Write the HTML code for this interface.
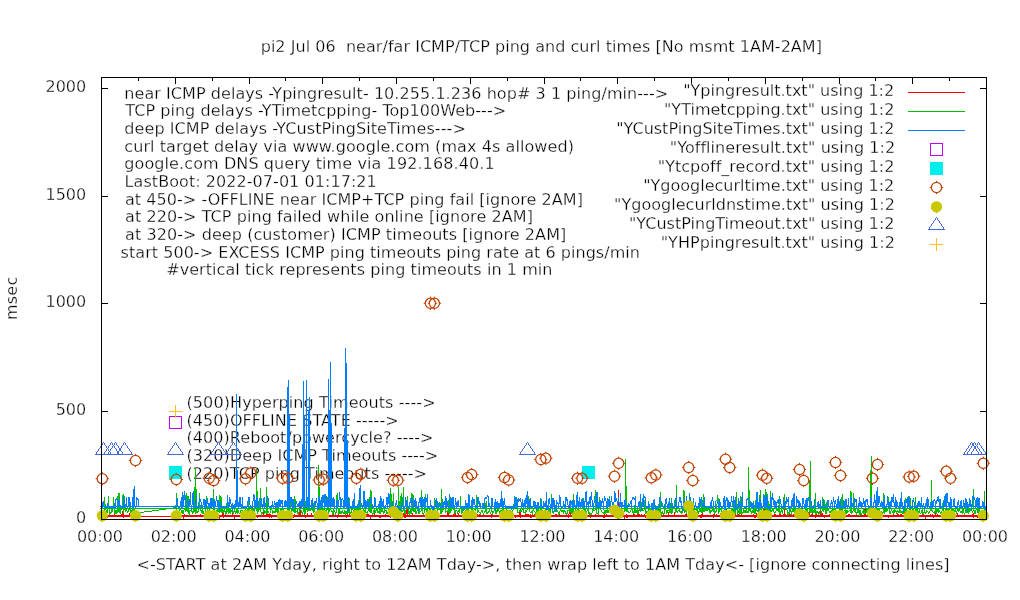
<!DOCTYPE html>
<html><head><meta charset="utf-8"><title>pi2 ping plot</title>
<style>html,body{margin:0;padding:0;background:#fff}svg{display:block}text{font-family:"DejaVu Sans","Liberation Sans",sans-serif;font-size:16px;fill:#000;stroke:#fff;stroke-width:0.3px}</style>
</head><body>
<svg width="1020" height="600" viewBox="0 0 1020 600">
<rect width="1020" height="600" fill="#fff"/>
<text x="260.70" y="52.0" text-anchor="start" xml:space="preserve" letter-spacing="0.038">pi2 Jul 06  near/far ICMP/TCP ping and curl times [No msmt 1AM-2AM]</text>
<text x="136.50" y="570.0" text-anchor="start" xml:space="preserve" letter-spacing="0.060">&lt;-START at 2AM Yday, right to 12AM Tday-&gt;, then wrap left to 1AM Tday&lt;- [ignore connecting lines]</text>
<text x="124.30" y="99.0" text-anchor="start" xml:space="preserve" letter-spacing="0.061">near ICMP delays -Ypingresult- 10.255.1.236 hop# 3 1 ping/min---&gt;</text>
<text x="125.30" y="116.0" text-anchor="start" xml:space="preserve" letter-spacing="0.047">TCP ping delays -YTimetcpping- Top100Web---&gt;</text>
<text x="124.30" y="134.0" text-anchor="start" xml:space="preserve" letter-spacing="0.082">deep ICMP delays -YCustPingSiteTimes---&gt;</text>
<text x="124.30" y="152.0" text-anchor="start" xml:space="preserve" letter-spacing="0.081">curl target delay via www.google.com (max 4s allowed)</text>
<text x="124.30" y="169.0" text-anchor="start" xml:space="preserve" letter-spacing="0.098">google.com DNS query time via 192.168.40.1</text>
<text x="124.60" y="187.0" text-anchor="start" xml:space="preserve" letter-spacing="0.057">LastBoot: 2022-07-01 01:17:21</text>
<text x="125.00" y="205.0" text-anchor="start" xml:space="preserve" letter-spacing="0.047">at 450-&gt; -OFFLINE near ICMP+TCP ping fail [ignore 2AM]</text>
<text x="125.00" y="222.0" text-anchor="start" xml:space="preserve" letter-spacing="0.076">at 220-&gt; TCP ping failed while online [ignore 2AM]</text>
<text x="125.00" y="240.0" text-anchor="start" xml:space="preserve" letter-spacing="0.080">at 320-&gt; deep (customer) ICMP timeouts [ignore 2AM]</text>
<text x="120.60" y="258.0" text-anchor="start" xml:space="preserve" letter-spacing="0.043">start 500-&gt; EXCESS ICMP ping timeouts ping rate at 6 pings/min</text>
<text x="166.20" y="275.0" text-anchor="start" xml:space="preserve" letter-spacing="0.066">#vertical tick represents ping timeouts in 1 min</text>
<text x="186.50" y="408.0" text-anchor="start" xml:space="preserve" letter-spacing="0.096">(500)Hyperping Timeouts ----&gt;</text>
<text x="186.50" y="426.0" text-anchor="start" xml:space="preserve" letter-spacing="0.071">(450)OFFLINE STATE -----&gt;</text>
<text x="186.50" y="443.0" text-anchor="start" xml:space="preserve" letter-spacing="0.061">(400)Reboot/powercycle? ----&gt;</text>
<text x="186.50" y="461.0" text-anchor="start" xml:space="preserve" letter-spacing="0.061">(320)Deep ICMP Timeouts ----&gt;</text>
<text x="186.50" y="479.0" text-anchor="start" xml:space="preserve" letter-spacing="0.061">(220)TCP ping Timeouts -----&gt;</text>
<text transform="translate(16.5,298.3) rotate(-90)" text-anchor="middle" letter-spacing="0.2">msec</text>
<text x="86.20" y="523.0" text-anchor="end" xml:space="preserve">0</text>
<text x="86.20" y="415.0" text-anchor="end" xml:space="preserve">500</text>
<text x="86.20" y="307.0" text-anchor="end" xml:space="preserve">1000</text>
<text x="86.20" y="200.0" text-anchor="end" xml:space="preserve">1500</text>
<text x="86.20" y="92.0" text-anchor="end" xml:space="preserve">2000</text>
<text x="100.00" y="542.0" text-anchor="middle" xml:space="preserve">00:00</text>
<text x="173.75" y="542.0" text-anchor="middle" xml:space="preserve">02:00</text>
<text x="247.50" y="542.0" text-anchor="middle" xml:space="preserve">04:00</text>
<text x="321.25" y="542.0" text-anchor="middle" xml:space="preserve">06:00</text>
<text x="395.00" y="542.0" text-anchor="middle" xml:space="preserve">08:00</text>
<text x="468.75" y="542.0" text-anchor="middle" xml:space="preserve">10:00</text>
<text x="542.50" y="542.0" text-anchor="middle" xml:space="preserve">12:00</text>
<text x="616.25" y="542.0" text-anchor="middle" xml:space="preserve">14:00</text>
<text x="690.00" y="542.0" text-anchor="middle" xml:space="preserve">16:00</text>
<text x="763.75" y="542.0" text-anchor="middle" xml:space="preserve">18:00</text>
<text x="837.50" y="542.0" text-anchor="middle" xml:space="preserve">20:00</text>
<text x="911.25" y="542.0" text-anchor="middle" xml:space="preserve">22:00</text>
<text x="985.00" y="542.0" text-anchor="middle" xml:space="preserve">00:00</text>
<g shape-rendering="crispEdges" stroke="#000" stroke-width="1" fill="none">
<path d="M101 519.5h7M987 519.5h-7"/>
<path d="M101 411.5h7M987 411.5h-7"/>
<path d="M101 303.5h7M987 303.5h-7"/>
<path d="M101 196.5h7M987 196.5h-7"/>
<path d="M101 88.5h7M987 88.5h-7"/>
<path d="M101.5 520v-7 M101.5 77v7"/>
<path d="M138.5 520v-4 M138.5 77v4"/>
<path d="M175.5 520v-7 M175.5 77v7"/>
<path d="M212.5 520v-4 M212.5 77v4"/>
<path d="M249.5 520v-7 M249.5 77v7"/>
<path d="M285.5 520v-4 M285.5 77v4"/>
<path d="M322.5 520v-7 M322.5 77v7"/>
<path d="M359.5 520v-4 M359.5 77v4"/>
<path d="M396.5 520v-7 M396.5 77v7"/>
<path d="M433.5 520v-4 M433.5 77v4"/>
<path d="M470.5 520v-7 M470.5 77v7"/>
<path d="M507.5 520v-4 M507.5 77v4"/>
<path d="M544.5 520v-7 M544.5 77v7"/>
<path d="M580.5 520v-4 M580.5 77v4"/>
<path d="M617.5 520v-7 M617.5 77v7"/>
<path d="M654.5 520v-4 M654.5 77v4"/>
<path d="M691.5 520v-7 M691.5 77v7"/>
<path d="M728.5 520v-4 M728.5 77v4"/>
<path d="M765.5 520v-7 M765.5 77v7"/>
<path d="M802.5 520v-4 M802.5 77v4"/>
<path d="M839.5 520v-7 M839.5 77v7"/>
<path d="M875.5 520v-4 M875.5 77v4"/>
<path d="M912.5 520v-7 M912.5 77v7"/>
<path d="M949.5 520v-4 M949.5 77v4"/>
<path d="M986.5 520v-7 M986.5 77v7"/>
</g>
<g shape-rendering="crispEdges" fill="none" stroke-width="1">
<polyline points="175.2,515.5 175.8,516.5 176.5,516.5 177.1,515.5 177.8,515.5 178.4,515.5 179.0,516.5 179.7,516.5 180.3,514.1 181.0,516.5 181.6,515.5 182.2,515.5 182.9,515.5 183.5,517.5 184.2,514.6 184.8,516.5 185.4,516.5 186.1,516.5 186.7,516.5 187.4,515.5 188.0,515.5 188.6,515.5 189.3,516.5 189.9,515.5 190.6,516.5 191.2,515.5 191.8,515.5 192.5,515.5 193.1,516.5 193.8,515.5 194.4,515.5 195.0,515.5 195.7,516.5 196.3,516.5 197.0,516.5 197.6,516.5 198.2,515.5 198.9,515.5 199.5,516.5 200.2,514.5 200.8,516.5 201.4,515.5 202.1,515.5 202.7,515.5 203.4,516.5 204.0,515.5 204.6,516.5 205.3,516.5 205.9,512.0 206.6,515.5 207.2,516.5 207.8,517.5 208.5,516.5 209.1,515.5 209.8,516.5 210.4,515.5 211.0,516.5 211.7,513.6 212.3,515.5 213.0,515.5 213.6,514.2 214.2,513.9 214.9,517.5 215.5,516.5 216.2,515.5 216.8,515.5 217.4,516.5 218.1,516.5 218.7,514.6 219.4,517.5 220.0,515.5 220.6,515.5 221.3,516.5 221.9,515.5 222.6,514.6 223.2,510.8 223.8,516.5 224.5,515.5 225.1,515.5 225.8,515.5 226.4,515.5 227.0,515.5 227.7,516.5 228.3,515.5 229.0,515.5 229.6,516.5 230.2,515.5 230.9,516.5 231.5,515.5 232.2,516.5 232.8,513.6 233.4,516.5 234.1,515.5 234.7,517.5 235.4,515.5 236.0,515.5 236.6,516.5 237.3,516.5 237.9,515.5 238.6,515.5 239.2,515.5 239.8,515.5 240.5,516.5 241.1,515.5 241.8,515.5 242.4,515.5 243.0,516.5 243.7,515.5 244.3,516.5 245.0,515.5 245.6,515.5 246.2,516.5 246.9,516.5 247.5,516.5 248.2,515.5 248.8,516.5 249.4,511.9 250.1,516.5 250.7,516.5 251.4,515.5 252.0,507.1 252.6,516.5 253.3,516.5 253.9,515.5 254.6,513.7 255.2,516.5 255.8,515.5 256.5,516.5 257.1,515.5 257.8,517.5 258.4,515.5 259.0,515.5 259.7,515.5 260.3,515.5 261.0,515.5 261.6,516.5 262.2,516.5 262.9,515.5 263.5,511.4 264.2,516.5 264.8,516.5 265.4,516.5 266.1,515.5 266.7,514.5 267.4,515.5 268.0,514.6 268.6,515.5 269.3,516.5 269.9,514.3 270.6,515.5 271.2,517.5 271.8,515.5 272.5,515.5 273.1,514.9 273.8,515.5 274.4,516.5 275.0,516.5 275.7,516.5 276.3,515.5 277.0,516.5 277.6,516.5 278.2,516.5 278.9,516.5 279.5,515.5 280.2,515.5 280.8,516.5 281.4,515.5 282.1,515.5 282.7,515.5 283.4,515.5 284.0,516.5 284.6,515.5 285.3,515.5 285.9,516.5 286.6,516.5 287.2,516.5 287.8,514.5 288.5,516.5 289.1,515.5 289.8,515.5 290.4,515.5 291.0,515.5 291.7,515.5 292.3,515.5 293.0,514.6 293.6,516.5 294.2,514.1 294.9,514.9 295.5,515.5 296.2,515.5 296.8,515.5 297.4,516.5 298.1,515.5 298.7,513.7 299.4,516.5 300.0,507.0 300.6,514.1 301.3,515.5 301.9,516.5 302.6,515.5 303.2,515.5 303.8,516.5 304.5,516.5 305.1,517.5 305.8,515.5 306.4,516.5 307.0,515.5 307.7,514.1 308.3,515.5 309.0,515.5 309.6,515.5 310.2,515.5 310.9,515.5 311.5,514.2 312.2,516.5 312.8,516.5 313.4,515.5 314.1,516.5 314.7,516.5 315.4,515.5 316.0,515.5 316.6,516.5 317.3,514.7 317.9,516.5 318.6,515.5 319.2,515.5 319.8,515.5 320.5,516.5 321.1,515.5 321.8,516.5 322.4,514.1 323.0,516.5 323.7,516.5 324.3,514.3 325.0,516.5 325.6,516.5 326.2,515.5 326.9,516.5 327.5,514.4 328.2,516.5 328.8,516.5 329.4,516.5 330.1,515.5 330.7,515.5 331.4,515.5 332.0,516.5 332.6,513.6 333.3,514.2 333.9,516.5 334.6,516.5 335.2,515.5 335.8,514.6 336.5,516.5 337.1,517.5 337.8,516.5 338.4,514.4 339.0,515.5 339.7,516.5 340.3,516.5 341.0,516.5 341.6,515.5 342.2,516.5 342.9,516.5 343.5,516.5 344.2,515.5 344.8,515.5 345.4,515.5 346.1,517.5 346.7,516.5 347.4,514.3 348.0,515.5 348.6,515.5 349.3,514.7 349.9,514.6 350.6,516.5 351.2,516.5 351.8,515.5 352.5,516.5 353.1,515.5 353.8,516.5 354.4,515.5 355.0,516.5 355.7,515.5 356.3,515.5 357.0,515.5 357.6,515.5 358.2,515.5 358.9,515.5 359.5,515.5 360.2,515.5 360.8,516.5 361.4,517.5 362.1,516.5 362.7,517.5 363.4,516.5 364.0,516.5 364.6,516.5 365.3,515.5 365.9,517.5 366.6,515.5 367.2,516.5 367.8,513.8 368.5,515.5 369.1,516.5 369.8,516.5 370.4,517.5 371.0,515.5 371.7,516.5 372.3,515.5 373.0,516.5 373.6,515.5 374.2,516.5 374.9,514.7 375.5,515.5 376.2,516.5 376.8,515.5 377.4,516.5 378.1,516.5 378.7,515.5 379.4,516.5 380.0,517.5 380.6,515.5 381.3,515.5 381.9,516.5 382.6,516.5 383.2,516.5 383.8,515.5 384.5,516.5 385.1,515.5 385.8,514.2 386.4,515.5 387.0,516.5 387.7,516.5 388.3,516.5 389.0,516.5 389.6,515.5 390.2,517.5 390.9,516.5 391.5,514.2 392.2,516.5 392.8,516.5 393.4,516.5 394.1,515.5 394.7,516.5 395.4,515.5 396.0,515.5 396.6,516.5 397.3,515.5 397.9,515.5 398.6,516.5 399.2,516.5 399.8,516.5 400.5,516.5 401.1,515.5 401.8,515.5 402.4,515.5 403.0,515.5 403.7,513.6 404.3,515.5 405.0,517.5 405.6,515.5 406.2,513.7 406.9,507.4 407.5,516.5 408.2,515.5 408.8,515.5 409.4,516.5 410.1,516.5 410.7,515.5 411.4,515.5 412.0,515.5 412.6,514.0 413.3,516.5 413.9,515.5 414.6,515.5 415.2,516.5 415.8,515.5 416.5,516.5 417.1,516.5 417.8,515.5 418.4,515.5 419.0,516.5 419.7,515.5 420.3,516.5 421.0,515.5 421.6,516.5 422.2,516.5 422.9,516.5 423.5,516.5 424.2,515.5 424.8,515.5 425.4,515.5 426.1,515.5 426.7,516.5 427.4,516.5 428.0,516.5 428.6,515.5 429.3,515.5 429.9,513.8 430.6,515.5 431.2,516.5 431.8,515.5 432.5,515.5 433.1,516.5 433.8,516.5 434.4,517.5 435.0,516.5 435.7,516.5 436.3,516.5 437.0,516.5 437.6,516.5 438.2,515.5 438.9,516.5 439.5,515.5 440.2,515.5 440.8,515.5 441.4,515.5 442.1,516.5 442.7,515.5 443.4,515.5 444.0,515.5 444.6,516.5 445.3,515.5 445.9,515.5 446.6,516.5 447.2,516.5 447.8,510.0 448.5,516.5 449.1,515.5 449.8,516.5 450.4,516.5 451.0,514.9 451.7,515.5 452.3,515.5 453.0,515.5 453.6,515.5 454.2,513.7 454.9,515.5 455.5,513.9 456.2,516.5 456.8,515.5 457.4,516.5 458.1,516.5 458.7,514.0 459.4,515.5 460.0,516.5 460.6,516.5 461.3,515.5 461.9,515.5 462.6,516.5 463.2,517.5 463.8,516.5 464.5,516.5 465.1,516.5 465.8,514.0 466.4,515.5 467.0,516.5 467.7,515.5 468.3,516.5 469.0,516.5 469.6,516.5 470.2,516.5 470.9,515.5 471.5,515.5 472.2,515.5 472.8,516.5 473.4,515.5 474.1,515.5 474.7,514.2 475.4,515.5 476.0,513.9 476.6,515.5 477.3,514.6 477.9,516.5 478.6,516.5 479.2,515.5 479.8,514.6 480.5,515.5 481.1,516.5 481.8,515.5 482.4,515.5 483.0,515.5 483.7,515.5 484.3,515.5 485.0,516.5 485.6,516.5 486.2,516.5 486.9,515.5 487.5,515.5 488.2,516.5 488.8,515.5 489.4,516.5 490.1,515.5 490.7,515.5 491.4,516.5 492.0,514.2 492.6,516.5 493.3,516.5 493.9,515.5 494.6,515.5 495.2,516.5 495.8,516.5 496.5,515.5 497.1,516.5 497.8,516.5 498.4,516.5 499.0,516.5 499.7,515.5 500.3,516.5 501.0,516.5 501.6,515.5 502.2,514.6 502.9,516.5 503.5,515.5 504.2,514.8 504.8,517.5 505.4,516.5 506.1,515.0 506.7,515.5 507.4,516.5 508.0,516.5 508.6,515.5 509.3,516.5 509.9,515.5 510.6,514.5 511.2,514.5 511.8,515.5 512.5,516.5 513.1,515.5 513.8,515.5 514.4,516.5 515.0,515.5 515.7,517.5 516.3,516.5 517.0,516.5 517.6,515.5 518.2,516.5 518.9,516.5 519.5,516.5 520.2,509.0 520.8,516.5 521.4,515.5 522.1,516.5 522.7,516.5 523.4,516.5 524.0,515.5 524.6,516.5 525.3,516.5 525.9,514.0 526.6,515.5 527.2,513.9 527.8,514.4 528.5,514.1 529.1,516.5 529.8,516.5 530.4,515.5 531.0,517.5 531.7,515.5 532.3,516.5 533.0,516.5 533.6,516.5 534.2,516.5 534.9,514.3 535.5,515.5 536.2,515.5 536.8,516.5 537.4,515.5 538.1,515.5 538.7,515.5 539.4,514.1 540.0,514.0 540.6,516.5 541.3,517.5 541.9,516.5 542.6,516.5 543.2,514.1 543.8,517.5 544.5,515.5 545.1,516.5 545.8,516.5 546.4,513.6 547.0,515.5 547.7,516.5 548.3,516.5 549.0,515.5 549.6,516.5 550.2,516.5 550.9,515.5 551.5,516.5 552.2,515.5 552.8,515.5 553.4,516.5 554.1,516.5 554.7,515.5 555.4,515.5 556.0,514.3 556.6,516.5 557.3,516.5 557.9,516.5 558.6,516.5 559.2,514.1 559.8,516.5 560.5,515.5 561.1,515.5 561.8,515.5 562.4,516.5 563.0,516.5 563.7,515.5 564.3,515.5 565.0,516.5 565.6,516.5 566.2,516.5 566.9,515.5 567.5,516.5 568.2,516.5 568.8,517.5 569.4,507.4 570.1,513.7 570.7,515.5 571.4,516.5 572.0,515.5 572.6,514.3 573.3,516.5 573.9,516.5 574.6,516.5 575.2,515.5 575.8,515.5 576.5,516.5 577.1,515.5 577.8,515.5 578.4,511.0 579.0,516.5 579.7,514.9 580.3,516.5 581.0,516.5 581.6,516.5 582.2,515.5 582.9,513.7 583.5,514.6 584.2,516.5 584.8,516.5 585.4,516.5 586.1,516.5 586.7,515.5 587.4,516.5 588.0,515.5 588.6,516.5 589.3,515.5 589.9,516.5 590.6,517.5 591.2,516.5 591.8,516.5 592.5,516.5 593.1,516.5 593.8,516.5 594.4,516.5 595.0,516.5 595.7,514.8 596.3,516.5 597.0,516.5 597.6,516.5 598.2,516.5 598.9,515.5 599.5,516.5 600.2,515.5 600.8,516.5 601.4,515.5 602.1,516.5 602.7,515.5 603.4,517.5 604.0,517.5 604.6,514.6 605.3,515.5 605.9,514.9 606.6,514.7 607.2,515.5 607.8,515.5 608.5,515.5 609.1,516.5 609.8,516.5 610.4,516.5 611.0,516.5 611.7,516.5 612.3,516.5 613.0,515.5 613.6,515.5 614.2,516.5 614.9,516.5 615.5,514.6 616.2,515.5 616.8,515.5 617.4,517.5 618.1,517.5 618.7,490.0 619.4,516.5 620.0,515.5 620.6,516.5 621.3,516.5 621.9,516.5 622.6,516.5 623.2,516.5 623.8,515.5 624.5,517.5 625.1,515.5 625.8,516.5 626.4,515.5 627.0,517.5 627.7,515.5 628.3,515.5 629.0,515.5 629.6,515.5 630.2,516.5 630.9,515.5 631.5,515.5 632.2,516.5 632.8,515.5 633.4,515.5 634.1,514.2 634.7,515.5 635.4,516.5 636.0,515.5 636.6,516.5 637.3,515.5 637.9,515.5 638.6,509.9 639.2,515.5 639.8,515.5 640.5,515.5 641.1,515.5 641.8,514.6 642.4,515.5 643.0,515.5 643.7,516.5 644.3,515.5 645.0,514.7 645.6,516.5 646.2,515.5 646.9,515.5 647.5,515.5 648.2,517.5 648.8,514.0 649.4,515.5 650.1,514.1 650.7,515.5 651.4,516.5 652.0,516.5 652.6,515.5 653.3,516.5 653.9,516.5 654.6,514.0 655.2,516.5 655.8,515.5 656.5,516.5 657.1,516.5 657.8,512.6 658.4,516.5 659.0,515.5 659.7,515.5 660.3,516.5 661.0,516.5 661.6,516.5 662.2,516.5 662.9,515.5 663.5,516.5 664.2,516.5 664.8,516.5 665.4,516.5 666.1,515.5 666.7,515.5 667.4,515.5 668.0,516.5 668.6,513.9 669.3,515.5 669.9,515.5 670.6,516.5 671.2,516.5 671.8,516.5 672.5,516.5 673.1,515.5 673.8,515.5 674.4,513.6 675.0,516.5 675.7,515.5 676.3,515.5 677.0,516.5 677.6,516.5 678.2,516.5 678.9,515.5 679.5,515.5 680.2,515.5 680.8,515.5 681.4,515.5 682.1,516.5 682.7,516.5 683.4,516.5 684.0,516.5 684.6,516.5 685.3,515.5 685.9,514.5 686.6,515.5 687.2,515.5 687.8,515.5 688.5,513.5 689.1,515.5 689.8,516.5 690.4,515.5 691.0,516.5 691.7,516.5 692.3,516.5 693.0,516.5 693.6,513.9 694.2,516.5 694.9,516.5 695.5,516.5 696.2,516.5 696.8,516.5 697.4,516.5 698.1,515.5 698.7,515.5 699.4,515.5 700.0,516.5 700.6,517.5 701.3,515.5 701.9,517.5 702.6,514.0 703.2,515.5 703.8,516.5 704.5,516.5 705.1,516.5 705.8,516.5 706.4,515.5 707.0,515.5 707.7,515.5 708.3,516.5 709.0,515.5 709.6,516.5 710.2,516.5 710.9,516.5 711.5,516.5 712.2,516.5 712.8,515.5 713.4,516.5 714.1,514.0 714.7,516.5 715.4,516.5 716.0,514.9 716.6,514.9 717.3,515.5 717.9,516.5 718.6,515.5 719.2,516.5 719.8,515.5 720.5,513.9 721.1,515.5 721.8,515.5 722.4,516.5 723.0,516.5 723.7,515.5 724.3,516.5 725.0,515.5 725.6,516.5 726.2,516.5 726.9,515.5 727.5,515.5 728.2,514.6 728.8,516.5 729.4,516.5 730.1,515.5 730.7,516.5 731.4,516.5 732.0,516.5 732.6,516.5 733.3,514.6 733.9,514.8 734.6,515.5 735.2,514.0 735.8,515.5 736.5,516.5 737.1,515.5 737.8,516.5 738.4,516.5 739.0,514.1 739.7,515.5 740.3,515.5 741.0,515.5 741.6,513.7 742.2,516.5 742.9,516.5 743.5,515.5 744.2,516.5 744.8,515.5 745.4,515.5 746.1,515.5 746.7,515.5 747.4,516.5 748.0,515.5 748.6,516.5 749.3,516.5 749.9,516.5 750.6,515.5 751.2,515.5 751.8,516.5 752.5,515.5 753.1,514.8 753.8,514.4 754.4,516.5 755.0,517.5 755.7,515.5 756.3,513.8 757.0,515.5 757.6,516.5 758.2,515.5 758.9,515.5 759.5,516.5 760.2,515.5 760.8,515.5 761.4,516.5 762.1,516.5 762.7,516.5 763.4,516.5 764.0,508.6 764.6,516.5 765.3,515.5 765.9,517.5 766.6,515.5 767.2,515.5 767.8,515.5 768.5,515.5 769.1,516.5 769.8,516.5 770.4,516.5 771.0,516.5 771.7,515.5 772.3,515.5 773.0,516.5 773.6,516.5 774.2,515.5 774.9,513.7 775.5,516.5 776.2,516.5 776.8,516.5 777.4,516.5 778.1,515.0 778.7,515.5 779.4,515.5 780.0,513.8 780.6,516.5 781.3,516.5 781.9,516.5 782.6,516.5 783.2,515.5 783.8,515.5 784.5,509.0 785.1,515.5 785.8,515.5 786.4,515.5 787.0,516.5 787.7,515.5 788.3,515.5 789.0,515.5 789.6,514.9 790.2,514.8 790.9,516.5 791.5,514.5 792.2,515.5 792.8,515.5 793.4,514.7 794.1,515.5 794.7,516.5 795.4,516.5 796.0,516.5 796.6,515.5 797.3,515.5 797.9,516.5 798.6,516.5 799.2,517.5 799.8,515.5 800.5,516.5 801.1,516.5 801.8,516.5 802.4,516.5 803.0,516.5 803.7,515.5 804.3,515.5 805.0,516.5 805.6,516.5 806.2,516.5 806.9,516.5 807.5,515.5 808.2,516.5 808.8,511.7 809.4,515.5 810.1,516.5 810.7,515.5 811.4,515.5 812.0,514.1 812.6,513.7 813.3,515.5 813.9,515.5 814.6,515.5 815.2,517.5 815.8,516.5 816.5,512.3 817.1,515.5 817.8,516.5 818.4,512.6 819.0,514.0 819.7,513.8 820.3,510.2 821.0,515.5 821.6,515.5 822.2,513.6 822.9,515.5 823.5,515.5 824.2,517.5 824.8,516.5 825.4,515.5 826.1,515.5 826.7,516.5 827.4,515.5 828.0,516.5 828.6,516.5 829.3,513.8 829.9,516.5 830.6,514.7 831.2,515.5 831.8,516.5 832.5,513.6 833.1,515.5 833.8,516.5 834.4,516.5 835.0,515.5 835.7,516.5 836.3,516.5 837.0,515.5 837.6,515.5 838.2,515.5 838.9,517.5 839.5,516.5 840.2,517.5 840.8,515.5 841.4,517.5 842.1,516.5 842.7,516.5 843.4,516.5 844.0,515.5 844.6,516.5 845.3,516.5 845.9,515.5 846.6,516.5 847.2,516.5 847.8,515.5 848.5,516.5 849.1,513.9 849.8,515.5 850.4,515.5 851.0,516.5 851.7,515.5 852.3,516.5 853.0,515.5 853.6,516.5 854.2,516.5 854.9,515.5 855.5,515.5 856.2,515.5 856.8,515.5 857.4,516.5 858.1,516.5 858.7,515.5 859.4,514.0 860.0,515.5 860.6,515.5 861.3,516.5 861.9,516.5 862.6,515.5 863.2,516.5 863.8,515.5 864.5,515.5 865.1,507.4 865.8,515.5 866.4,515.5 867.0,515.5 867.7,516.5 868.3,516.5 869.0,514.7 869.6,515.5 870.2,515.5 870.9,516.5 871.5,516.5 872.2,515.5 872.8,516.5 873.4,515.5 874.1,515.5 874.7,515.5 875.4,516.5 876.0,515.5 876.6,516.5 877.3,515.5 877.9,515.5 878.6,516.5 879.2,516.5 879.8,516.5 880.5,514.3 881.1,515.5 881.8,516.5 882.4,516.5 883.0,516.5 883.7,515.5 884.3,515.5 885.0,515.5 885.6,516.5 886.2,515.5 886.9,516.5 887.5,516.5 888.2,517.5 888.8,515.5 889.4,516.5 890.1,515.5 890.7,516.5 891.4,516.5 892.0,515.5 892.6,516.5 893.3,514.5 893.9,516.5 894.6,515.5 895.2,516.5 895.8,515.5 896.5,516.5 897.1,516.5 897.8,513.5 898.4,514.2 899.0,514.8 899.7,515.5 900.3,515.5 901.0,513.8 901.6,515.5 902.2,516.5 902.9,516.5 903.5,515.5 904.2,516.5 904.8,505.0 905.4,515.5 906.1,516.5 906.7,516.5 907.4,515.5 908.0,516.5 908.6,515.5 909.3,516.5 909.9,515.5 910.6,515.5 911.2,515.5 911.8,516.5 912.5,516.5 913.1,515.5 913.8,516.5 914.4,516.5 915.0,515.5 915.7,515.5 916.3,516.5 917.0,516.5 917.6,516.5 918.2,515.5 918.9,516.5 919.5,515.5 920.2,515.5 920.8,516.5 921.4,515.5 922.1,515.5 922.7,508.9 923.4,515.5 924.0,515.5 924.6,516.5 925.3,517.5 925.9,515.5 926.6,515.5 927.2,516.5 927.8,516.5 928.5,515.5 929.1,515.5 929.8,515.5 930.4,514.5 931.0,515.5 931.7,516.5 932.3,515.5 933.0,514.5 933.6,517.5 934.2,515.5 934.9,516.5 935.5,514.7 936.2,516.5 936.8,515.5 937.4,514.8 938.1,515.5 938.7,516.5 939.4,516.5 940.0,516.5 940.6,515.5 941.3,515.5 941.9,516.5 942.6,515.5 943.2,517.5 943.8,516.5 944.5,515.5 945.1,515.5 945.8,517.5 946.4,516.5 947.0,515.5 947.7,516.5 948.3,515.5 949.0,513.6 949.6,515.5 950.2,516.5 950.9,515.0 951.5,515.5 952.2,513.5 952.8,516.5 953.4,515.5 954.1,516.5 954.7,516.5 955.4,516.5 956.0,516.5 956.6,516.5 957.3,514.4 957.9,516.5 958.6,516.5 959.2,516.5 959.8,515.5 960.5,515.5 961.1,515.5 961.8,516.5 962.4,516.5 963.0,515.5 963.7,515.5 964.3,516.5 965.0,516.5 965.6,515.5 966.2,516.5 966.9,515.5 967.5,515.5 968.2,516.5 968.8,515.5 969.4,515.5 970.1,515.5 970.7,515.0 971.4,515.5 972.0,515.5 972.6,515.5 973.3,513.5 973.9,517.5 974.6,516.5 975.2,515.5 975.8,515.5 976.5,515.5 977.1,517.5 977.8,515.5 978.4,516.5 979.0,516.5 979.7,515.5 980.3,514.5 981.0,516.5 981.6,516.5 982.2,515.5 982.9,513.9 983.5,515.5 984.2,516.5 984.8,513.7 985.4,516.5 986.0,516.5 101.0,516.5 101.5,515.5 102.1,516.5 102.8,515.5 103.4,515.5 104.1,515.5 104.7,513.6 105.3,515.5 106.0,514.9 106.6,515.5 107.3,517.5 107.9,516.5 108.5,516.5 109.2,514.2 109.8,515.5 110.5,516.5 111.1,516.5 111.7,515.5 112.4,515.5 113.0,516.5 113.7,516.5 114.3,514.1 114.9,516.5 115.6,515.5 116.2,514.9 116.9,515.5 117.5,516.5 118.1,515.5 118.8,516.5 119.4,515.5 120.1,516.5 120.7,516.5 121.3,513.8 122.0,516.5 122.6,515.5 123.3,507.7 123.9,516.5 124.5,515.5 125.2,516.5 125.8,516.5 126.5,515.5 127.1,516.5 127.7,516.5 128.4,515.5 129.0,516.5 129.7,514.4 130.3,515.5 130.9,516.5 131.6,516.5 132.2,515.5 132.9,516.5 133.5,515.5 134.1,516.5 134.8,515.5 135.4,515.5 136.1,515.5 136.7,516.5 137.3,513.9 138.0,516.5 139.0,516.5 175.0,516.5" stroke="#ff0000"/>
<polyline points="175.0,515.5 986.0,515.5" stroke="#ff0000"/>
<polyline points="101.0,515.5 139.0,515.5" stroke="#ff0000"/>
<polyline points="175.2,513.7 175.8,512.1 176.5,513.9 177.1,513.8 177.8,513.5 178.4,514.3 179.0,510.9 179.7,509.3 180.3,508.9 181.0,510.2 181.6,512.1 182.2,511.2 182.9,514.4 183.5,510.7 184.2,509.6 184.8,509.7 185.4,510.5 186.1,493.0 186.7,510.2 187.4,512.3 188.0,495.6 188.6,512.8 189.3,514.1 189.9,510.4 190.6,510.4 191.2,511.3 191.8,509.4 192.5,514.3 193.1,512.2 193.8,508.7 194.4,509.6 195.0,511.9 195.7,514.3 196.3,493.4 197.0,513.4 197.6,511.8 198.2,510.7 198.9,512.3 199.5,493.3 200.2,508.9 200.8,509.3 201.4,513.4 202.1,509.2 202.7,512.9 203.4,511.8 204.0,513.7 204.6,514.3 205.3,513.1 205.9,511.3 206.6,495.9 207.2,511.6 207.8,508.9 208.5,512.1 209.1,514.4 209.8,510.2 210.4,511.5 211.0,510.9 211.7,511.4 212.3,511.4 213.0,514.5 213.6,493.9 214.2,509.4 214.9,511.0 215.5,513.1 216.2,510.3 216.8,513.8 217.4,508.6 218.1,511.4 218.7,509.3 219.4,513.0 220.0,495.4 220.6,512.1 221.3,496.7 221.9,513.2 222.6,508.7 223.2,511.3 223.8,513.2 224.5,508.8 225.1,511.3 225.8,514.0 226.4,512.4 227.0,503.4 227.7,510.4 228.3,513.9 229.0,508.7 229.6,509.3 230.2,514.2 230.9,510.0 231.5,510.4 232.2,513.0 232.8,510.5 233.4,512.7 234.1,511.3 234.7,509.1 235.4,513.5 236.0,512.4 236.6,510.7 237.3,514.3 237.9,509.3 238.6,512.1 239.2,513.1 239.8,513.8 240.5,510.9 241.1,510.7 241.8,510.7 242.4,510.6 243.0,513.6 243.7,512.6 244.3,510.8 245.0,510.0 245.6,509.1 246.2,514.0 246.9,510.8 247.5,509.4 248.2,513.9 248.8,501.4 249.4,513.8 250.1,511.3 250.7,510.2 251.4,510.2 252.0,508.7 252.6,513.3 253.3,509.6 253.9,509.0 254.6,512.1 255.2,499.6 255.8,508.7 256.5,510.6 257.1,510.7 257.8,513.7 258.4,509.3 259.0,509.0 259.7,509.1 260.3,488.3 261.0,512.0 261.6,514.2 262.2,512.4 262.9,513.2 263.5,509.4 264.2,511.0 264.8,512.8 265.4,511.9 266.1,513.5 266.7,487.4 267.4,514.3 268.0,511.1 268.6,511.9 269.3,513.2 269.9,513.6 270.6,508.5 271.2,509.1 271.8,508.9 272.5,513.1 273.1,512.5 273.8,511.6 274.4,511.3 275.0,512.6 275.7,509.3 276.3,511.7 277.0,508.5 277.6,513.5 278.2,509.5 278.9,514.4 279.5,513.0 280.2,514.1 280.8,509.2 281.4,509.9 282.1,514.0 282.7,509.3 283.4,509.9 284.0,512.8 284.6,511.1 285.3,511.3 285.9,511.2 286.6,512.8 287.2,511.9 287.8,508.8 288.5,510.7 289.1,497.7 289.8,513.5 290.4,497.1 291.0,509.3 291.7,513.5 292.3,509.6 293.0,508.6 293.6,509.9 294.2,513.2 294.9,496.5 295.5,512.9 296.2,511.2 296.8,511.3 297.4,510.1 298.1,514.0 298.7,514.3 299.4,509.5 300.0,509.7 300.6,509.2 301.3,511.2 301.9,512.6 302.6,513.9 303.2,511.6 303.8,496.2 304.5,514.2 305.1,513.4 305.8,501.0 306.4,509.9 307.0,497.5 307.7,510.9 308.3,510.2 309.0,496.7 309.6,510.8 310.2,508.8 310.9,510.3 311.5,508.7 312.2,508.6 312.8,510.7 313.4,511.7 314.1,501.6 314.7,511.5 315.4,513.0 316.0,513.3 316.6,513.9 317.3,512.5 317.9,511.7 318.6,511.7 319.2,513.6 319.8,499.8 320.5,513.9 321.1,497.1 321.8,509.5 322.4,509.4 323.0,511.4 323.7,510.3 324.3,508.5 325.0,512.9 325.6,513.2 326.2,509.0 326.9,512.9 327.5,498.8 328.2,496.7 328.8,513.8 329.4,509.2 330.1,510.1 330.7,509.2 331.4,511.0 332.0,511.1 332.6,514.1 333.3,513.9 333.9,509.9 334.6,511.3 335.2,512.1 335.8,514.5 336.5,508.6 337.1,492.8 337.8,508.8 338.4,510.0 339.0,513.9 339.7,509.1 340.3,514.3 341.0,511.3 341.6,513.1 342.2,510.1 342.9,512.5 343.5,512.3 344.2,514.3 344.8,509.9 345.4,514.2 346.1,513.5 346.7,513.4 347.4,508.9 348.0,513.5 348.6,508.8 349.3,498.4 349.9,514.4 350.6,512.6 351.2,512.7 351.8,512.3 352.5,501.0 353.1,511.3 353.8,511.2 354.4,511.8 355.0,508.5 355.7,510.0 356.3,509.8 357.0,512.7 357.6,512.6 358.2,499.7 358.9,512.2 359.5,510.5 360.2,493.6 360.8,514.0 361.4,512.1 362.1,514.3 362.7,514.4 363.4,508.6 364.0,512.3 364.6,512.2 365.3,508.5 365.9,512.2 366.6,512.1 367.2,513.1 367.8,511.3 368.5,510.9 369.1,496.9 369.8,510.9 370.4,512.6 371.0,490.2 371.7,512.1 372.3,513.3 373.0,514.4 373.6,511.7 374.2,508.6 374.9,513.9 375.5,511.4 376.2,510.1 376.8,508.9 377.4,510.2 378.1,513.1 378.7,512.1 379.4,512.9 380.0,501.2 380.6,514.4 381.3,509.4 381.9,512.2 382.6,509.3 383.2,511.6 383.8,514.4 384.5,508.9 385.1,510.1 385.8,510.3 386.4,510.4 387.0,513.9 387.7,513.8 388.3,510.0 389.0,509.0 389.6,509.0 390.2,488.0 390.9,511.7 391.5,493.7 392.2,513.4 392.8,511.2 393.4,493.4 394.1,514.1 394.7,509.2 395.4,512.7 396.0,513.1 396.6,511.0 397.3,510.2 397.9,513.8 398.6,513.1 399.2,509.6 399.8,501.3 400.5,512.0 401.1,493.5 401.8,512.2 402.4,510.3 403.0,509.8 403.7,508.7 404.3,511.0 405.0,514.2 405.6,513.5 406.2,509.1 406.9,502.6 407.5,495.6 408.2,513.5 408.8,510.0 409.4,514.3 410.1,514.0 410.7,508.8 411.4,514.0 412.0,493.5 412.6,510.6 413.3,495.2 413.9,512.2 414.6,509.1 415.2,508.8 415.8,513.3 416.5,513.4 417.1,510.9 417.8,508.5 418.4,511.7 419.0,514.2 419.7,509.8 420.3,511.4 421.0,511.8 421.6,490.3 422.2,503.3 422.9,513.8 423.5,514.4 424.2,512.9 424.8,509.8 425.4,493.9 426.1,512.1 426.7,509.2 427.4,509.3 428.0,512.1 428.6,513.3 429.3,509.3 429.9,509.4 430.6,508.7 431.2,512.6 431.8,511.4 432.5,513.5 433.1,513.3 433.8,510.6 434.4,498.2 435.0,510.2 435.7,513.7 436.3,513.0 437.0,514.0 437.6,512.2 438.2,503.5 438.9,509.4 439.5,508.9 440.2,509.0 440.8,513.4 441.4,513.6 442.1,511.1 442.7,499.3 443.4,509.4 444.0,508.9 444.6,509.0 445.3,509.3 445.9,512.2 446.6,511.8 447.2,510.2 447.8,512.0 448.5,512.3 449.1,497.7 449.8,514.2 450.4,510.1 451.0,497.5 451.7,509.7 452.3,508.6 453.0,502.6 453.6,508.6 454.2,510.0 454.9,514.0 455.5,510.2 456.2,510.2 456.8,510.0 457.4,512.6 458.1,510.6 458.7,512.0 459.4,512.4 460.0,509.2 460.6,495.7 461.3,513.2 461.9,513.0 462.6,510.7 463.2,513.5 463.8,514.4 464.5,514.1 465.1,512.0 465.8,510.8 466.4,510.0 467.0,513.7 467.7,509.9 468.3,497.8 469.0,511.8 469.6,512.1 470.2,512.6 470.9,511.8 471.5,509.2 472.2,513.8 472.8,510.3 473.4,511.6 474.1,509.6 474.7,509.0 475.4,510.2 476.0,509.7 476.6,494.9 477.3,512.1 477.9,511.4 478.6,510.3 479.2,512.6 479.8,512.9 480.5,514.3 481.1,511.8 481.8,510.2 482.4,511.1 483.0,512.8 483.7,514.2 484.3,511.5 485.0,512.2 485.6,509.0 486.2,500.9 486.9,513.2 487.5,513.0 488.2,512.3 488.8,512.5 489.4,509.0 490.1,512.7 490.7,514.3 491.4,509.5 492.0,510.6 492.6,513.8 493.3,512.8 493.9,511.6 494.6,509.0 495.2,508.5 495.8,514.0 496.5,512.3 497.1,509.5 497.8,511.1 498.4,509.2 499.0,511.3 499.7,513.3 500.3,510.4 501.0,512.1 501.6,511.8 502.2,508.8 502.9,511.4 503.5,509.5 504.2,511.1 504.8,512.1 505.4,512.2 506.1,513.3 506.7,509.9 507.4,511.8 508.0,510.0 508.6,511.1 509.3,510.0 509.9,510.1 510.6,511.1 511.2,512.0 511.8,511.8 512.5,514.2 513.1,509.1 513.8,508.6 514.4,496.0 515.0,498.4 515.7,508.6 516.3,508.6 517.0,498.4 517.6,512.4 518.2,512.0 518.9,512.5 519.5,510.7 520.2,509.2 520.8,511.4 521.4,511.4 522.1,510.1 522.7,509.0 523.4,509.6 524.0,512.6 524.6,512.6 525.3,513.0 525.9,510.5 526.6,511.2 527.2,509.6 527.8,494.1 528.5,499.0 529.1,510.1 529.8,511.2 530.4,512.6 531.0,512.2 531.7,511.7 532.3,513.5 533.0,510.0 533.6,509.1 534.2,511.5 534.9,511.9 535.5,514.2 536.2,513.4 536.8,511.2 537.4,511.5 538.1,509.2 538.7,514.0 539.4,510.4 540.0,510.6 540.6,513.1 541.3,498.6 541.9,512.9 542.6,510.9 543.2,512.1 543.8,512.6 544.5,513.2 545.1,509.1 545.8,510.0 546.4,514.2 547.0,512.9 547.7,512.3 548.3,509.8 549.0,508.6 549.6,514.3 550.2,508.6 550.9,512.5 551.5,493.7 552.2,513.2 552.8,509.9 553.4,513.3 554.1,511.7 554.7,508.9 555.4,511.6 556.0,511.3 556.6,511.9 557.3,511.0 557.9,511.7 558.6,514.4 559.2,513.1 559.8,511.8 560.5,509.1 561.1,510.0 561.8,511.8 562.4,511.1 563.0,510.3 563.7,513.8 564.3,510.4 565.0,511.1 565.6,513.0 566.2,513.4 566.9,514.3 567.5,511.2 568.2,510.4 568.8,511.0 569.4,511.6 570.1,508.6 570.7,511.4 571.4,509.3 572.0,514.3 572.6,510.2 573.3,493.8 573.9,514.1 574.6,513.4 575.2,509.6 575.8,509.1 576.5,511.5 577.1,510.2 577.8,509.3 578.4,508.9 579.0,512.0 579.7,511.0 580.3,512.8 581.0,513.7 581.6,510.3 582.2,512.1 582.9,512.6 583.5,498.1 584.2,513.1 584.8,513.6 585.4,510.0 586.1,511.3 586.7,512.0 587.4,510.0 588.0,508.7 588.6,512.9 589.3,513.9 589.9,512.5 590.6,513.9 591.2,513.6 591.8,514.2 592.5,509.6 593.1,509.4 593.8,510.8 594.4,510.7 595.0,510.9 595.7,489.8 596.3,511.1 597.0,513.8 597.6,513.5 598.2,514.1 598.9,512.1 599.5,496.6 600.2,508.5 600.8,508.9 601.4,511.4 602.1,512.3 602.7,512.5 603.4,512.2 604.0,514.2 604.6,510.1 605.3,514.2 605.9,510.0 606.6,512.5 607.2,509.0 607.8,512.8 608.5,512.6 609.1,509.1 609.8,496.3 610.4,510.2 611.0,508.7 611.7,513.0 612.3,509.1 613.0,509.0 613.6,511.4 614.2,513.2 614.9,511.6 615.5,508.7 616.2,510.8 616.8,509.1 617.4,511.7 618.1,508.9 618.7,514.1 619.4,511.8 620.0,512.1 620.6,509.5 621.3,511.2 621.9,508.8 622.6,509.2 623.2,511.4 623.8,513.2 624.5,510.2 625.1,508.5 625.8,503.6 626.4,511.8 627.0,511.7 627.7,509.1 628.3,512.2 629.0,512.4 629.6,512.4 630.2,511.4 630.9,511.7 631.5,500.9 632.2,511.4 632.8,512.2 633.4,513.1 634.1,510.8 634.7,513.0 635.4,496.0 636.0,512.9 636.6,511.5 637.3,509.0 637.9,514.1 638.6,511.4 639.2,511.0 639.8,509.7 640.5,511.6 641.1,502.1 641.8,509.6 642.4,509.6 643.0,511.3 643.7,510.1 644.3,509.5 645.0,500.3 645.6,514.2 646.2,511.2 646.9,512.4 647.5,513.0 648.2,510.3 648.8,501.2 649.4,509.2 650.1,509.6 650.7,512.2 651.4,509.0 652.0,512.9 652.6,508.7 653.3,513.6 653.9,509.9 654.6,502.3 655.2,509.7 655.8,508.6 656.5,510.4 657.1,508.7 657.8,512.9 658.4,510.1 659.0,503.7 659.7,511.9 660.3,492.2 661.0,513.1 661.6,514.4 662.2,511.2 662.9,513.2 663.5,514.1 664.2,513.9 664.8,510.6 665.4,499.8 666.1,511.8 666.7,513.1 667.4,512.5 668.0,509.8 668.6,510.7 669.3,511.8 669.9,508.8 670.6,513.0 671.2,513.2 671.8,498.1 672.5,513.4 673.1,508.6 673.8,508.8 674.4,499.6 675.0,508.9 675.7,511.6 676.3,509.8 677.0,511.4 677.6,512.0 678.2,510.2 678.9,510.1 679.5,509.7 680.2,512.9 680.8,511.7 681.4,514.4 682.1,510.7 682.7,512.3 683.4,509.6 684.0,490.1 684.6,513.3 685.3,510.5 685.9,508.8 686.6,513.7 687.2,508.5 687.8,510.8 688.5,511.2 689.1,509.0 689.8,512.4 690.4,496.7 691.0,509.0 691.7,501.7 692.3,514.0 693.0,509.0 693.6,511.5 694.2,512.3 694.9,509.5 695.5,509.0 696.2,510.2 696.8,508.8 697.4,509.2 698.1,514.0 698.7,512.1 699.4,510.9 700.0,509.3 700.6,510.7 701.3,513.4 701.9,496.9 702.6,512.2 703.2,511.3 703.8,493.8 704.5,511.5 705.1,509.8 705.8,510.4 706.4,508.8 707.0,511.2 707.7,510.2 708.3,509.1 709.0,509.8 709.6,508.9 710.2,514.3 710.9,509.6 711.5,512.3 712.2,509.8 712.8,509.9 713.4,502.6 714.1,513.6 714.7,510.4 715.4,512.2 716.0,511.8 716.6,509.9 717.3,499.4 717.9,494.7 718.6,514.3 719.2,508.5 719.8,510.7 720.5,508.9 721.1,508.6 721.8,511.4 722.4,514.0 723.0,511.5 723.7,510.6 724.3,513.2 725.0,512.9 725.6,509.5 726.2,509.2 726.9,510.0 727.5,513.4 728.2,514.0 728.8,512.7 729.4,512.6 730.1,512.1 730.7,511.8 731.4,514.1 732.0,509.6 732.6,510.4 733.3,512.3 733.9,499.8 734.6,512.6 735.2,509.2 735.8,514.3 736.5,491.9 737.1,511.5 737.8,514.4 738.4,511.1 739.0,512.5 739.7,514.5 740.3,495.6 741.0,514.0 741.6,511.4 742.2,512.8 742.9,513.9 743.5,509.0 744.2,510.2 744.8,513.0 745.4,510.3 746.1,513.2 746.7,509.1 747.4,512.9 748.0,512.9 748.6,509.1 749.3,510.1 749.9,510.4 750.6,509.0 751.2,513.4 751.8,511.6 752.5,510.7 753.1,513.4 753.8,501.5 754.4,510.6 755.0,514.1 755.7,500.0 756.3,509.4 757.0,511.3 757.6,511.9 758.2,508.8 758.9,512.0 759.5,509.0 760.2,490.3 760.8,509.5 761.4,503.5 762.1,514.0 762.7,512.2 763.4,513.6 764.0,512.2 764.6,514.2 765.3,511.1 765.9,488.8 766.6,510.6 767.2,494.4 767.8,511.6 768.5,500.9 769.1,512.2 769.8,511.7 770.4,490.6 771.0,512.4 771.7,510.5 772.3,509.8 773.0,510.7 773.6,509.7 774.2,513.5 774.9,513.4 775.5,512.0 776.2,511.0 776.8,509.0 777.4,510.0 778.1,510.5 778.7,512.0 779.4,495.9 780.0,513.5 780.6,513.8 781.3,509.6 781.9,511.6 782.6,513.5 783.2,508.6 783.8,497.7 784.5,494.4 785.1,509.8 785.8,509.5 786.4,509.2 787.0,509.8 787.7,514.5 788.3,512.9 789.0,514.4 789.6,512.3 790.2,508.8 790.9,511.4 791.5,514.5 792.2,510.0 792.8,512.2 793.4,503.5 794.1,512.9 794.7,508.6 795.4,510.3 796.0,511.7 796.6,511.7 797.3,513.5 797.9,513.6 798.6,510.6 799.2,508.8 799.8,508.5 800.5,513.4 801.1,508.9 801.8,513.1 802.4,509.1 803.0,512.0 803.7,510.8 804.3,513.0 805.0,514.4 805.6,513.0 806.2,499.0 806.9,513.4 807.5,509.3 808.2,514.3 808.8,513.2 809.4,511.9 810.1,510.4 810.7,513.2 811.4,508.9 812.0,512.7 812.6,508.6 813.3,513.2 813.9,510.5 814.6,513.4 815.2,492.7 815.8,514.2 816.5,513.8 817.1,510.9 817.8,511.5 818.4,514.4 819.0,513.6 819.7,512.9 820.3,509.0 821.0,511.4 821.6,513.9 822.2,510.0 822.9,496.7 823.5,512.3 824.2,509.4 824.8,499.7 825.4,511.5 826.1,513.9 826.7,501.7 827.4,510.5 828.0,510.3 828.6,509.1 829.3,512.8 829.9,512.9 830.6,512.2 831.2,510.4 831.8,512.2 832.5,508.7 833.1,513.7 833.8,509.7 834.4,509.9 835.0,508.9 835.7,513.8 836.3,512.0 837.0,513.6 837.6,510.8 838.2,514.2 838.9,512.3 839.5,509.0 840.2,509.9 840.8,512.4 841.4,514.0 842.1,494.1 842.7,514.0 843.4,513.3 844.0,510.6 844.6,510.3 845.3,512.1 845.9,508.7 846.6,514.4 847.2,510.2 847.8,512.0 848.5,511.4 849.1,510.8 849.8,510.2 850.4,512.7 851.0,491.1 851.7,513.2 852.3,512.9 853.0,511.6 853.6,493.4 854.2,509.2 854.9,511.4 855.5,509.0 856.2,514.2 856.8,514.0 857.4,509.7 858.1,508.6 858.7,512.4 859.4,514.1 860.0,510.4 860.6,514.1 861.3,514.3 861.9,513.2 862.6,511.0 863.2,514.1 863.8,508.7 864.5,513.7 865.1,511.4 865.8,513.0 866.4,512.7 867.0,508.5 867.7,511.1 868.3,508.6 869.0,510.3 869.6,512.4 870.2,512.4 870.9,509.2 871.5,510.9 872.2,512.9 872.8,513.7 873.4,512.9 874.1,511.6 874.7,513.6 875.4,509.4 876.0,502.0 876.6,513.6 877.3,509.5 877.9,512.4 878.6,509.5 879.2,509.8 879.8,514.2 880.5,512.7 881.1,514.0 881.8,511.0 882.4,513.6 883.0,514.0 883.7,493.2 884.3,514.2 885.0,512.0 885.6,508.9 886.2,511.5 886.9,508.7 887.5,509.9 888.2,508.6 888.8,497.3 889.4,513.7 890.1,513.0 890.7,513.1 891.4,508.9 892.0,511.0 892.6,511.8 893.3,510.9 893.9,513.5 894.6,509.7 895.2,510.1 895.8,510.8 896.5,514.3 897.1,510.7 897.8,511.5 898.4,511.5 899.0,512.6 899.7,509.6 900.3,511.1 901.0,513.1 901.6,510.7 902.2,514.3 902.9,511.2 903.5,513.2 904.2,511.5 904.8,510.7 905.4,498.0 906.1,514.4 906.7,509.5 907.4,512.6 908.0,511.0 908.6,511.0 909.3,512.1 909.9,495.8 910.6,511.3 911.2,514.3 911.8,512.2 912.5,509.2 913.1,509.7 913.8,512.0 914.4,513.7 915.0,514.3 915.7,496.6 916.3,512.4 917.0,514.1 917.6,510.7 918.2,511.8 918.9,514.0 919.5,508.9 920.2,514.0 920.8,513.4 921.4,511.6 922.1,509.5 922.7,513.5 923.4,514.4 924.0,511.8 924.6,511.0 925.3,513.5 925.9,513.9 926.6,510.7 927.2,511.0 927.8,511.5 928.5,514.0 929.1,511.4 929.8,512.8 930.4,509.1 931.0,510.2 931.7,509.5 932.3,510.0 933.0,511.9 933.6,512.3 934.2,513.1 934.9,511.1 935.5,509.7 936.2,514.0 936.8,508.9 937.4,509.8 938.1,512.2 938.7,509.6 939.4,511.7 940.0,511.6 940.6,513.2 941.3,512.7 941.9,511.3 942.6,509.2 943.2,500.5 943.8,514.3 944.5,511.4 945.1,514.3 945.8,510.0 946.4,510.7 947.0,509.3 947.7,511.2 948.3,510.0 949.0,509.1 949.6,508.9 950.2,510.5 950.9,511.1 951.5,508.7 952.2,514.4 952.8,508.7 953.4,510.7 954.1,510.8 954.7,511.3 955.4,509.6 956.0,512.0 956.6,512.9 957.3,509.8 957.9,509.2 958.6,511.0 959.2,509.8 959.8,510.3 960.5,512.2 961.1,511.1 961.8,511.8 962.4,513.6 963.0,509.2 963.7,512.5 964.3,514.2 965.0,513.7 965.6,500.7 966.2,511.5 966.9,513.1 967.5,512.8 968.2,509.2 968.8,513.6 969.4,509.9 970.1,508.7 970.7,510.3 971.4,510.8 972.0,511.1 972.6,512.4 973.3,509.7 973.9,510.5 974.6,511.5 975.2,514.4 975.8,510.3 976.5,508.5 977.1,508.7 977.8,512.0 978.4,514.4 979.0,508.6 979.7,509.9 980.3,512.9 981.0,513.8 981.6,509.9 982.2,511.7 982.9,510.4 983.5,512.3 984.2,511.9 984.8,511.9 985.4,508.6 986.0,508.5 101.0,508.5 101.5,511.3 102.1,510.4 102.8,513.5 103.4,512.3 104.1,514.1 104.7,497.2 105.3,510.0 106.0,509.6 106.6,514.3 107.3,510.2 107.9,512.5 108.5,495.6 109.2,513.6 109.8,514.4 110.5,512.3 111.1,512.8 111.7,508.9 112.4,510.8 113.0,508.8 113.7,497.1 114.3,509.4 114.9,514.0 115.6,511.5 116.2,513.1 116.9,509.9 117.5,512.8 118.1,493.4 118.8,511.3 119.4,512.2 120.1,513.1 120.7,508.8 121.3,509.4 122.0,508.7 122.6,497.2 123.3,493.8 123.9,514.0 124.5,496.2 125.2,509.2 125.8,512.3 126.5,509.5 127.1,510.8 127.7,511.9 128.4,510.8 129.0,508.7 129.7,509.7 130.3,508.6 130.9,512.0 131.6,511.8 132.2,509.3 132.9,512.7 133.5,512.7 134.1,508.7 134.8,510.3 135.4,513.2 136.1,514.0 136.7,510.9 137.3,513.1 138.0,514.4 140.8,512.5 175.0,507.8" stroke="#00c000"/>
<polyline points="139.0,508.5 175.0,508.5" stroke="#00c000"/>
<path d="M176.5 511V493.0M194.5 511V487.0M195.5 511V468.0M196.5 511V489.0M213.5 511V489.0M256.5 511V469.0M257.5 511V491.0M318.5 511V465.0M319.5 511V487.0M398.5 511V487.0M403.5 511V487.0M441.5 511V489.0M625.5 511V459.0M626.5 511V486.0M676.5 511V485.0M748.5 511V467.0M749.5 511V490.0M809.5 511V480.0M810.5 511V461.0M870.5 511V470.0M871.5 511V456.0M931.5 511V480.0M973.5 511V489.0M984.5 511V491.0M119.5 511V493.0" stroke="#00c000"/>
<polyline points="175.2,507.5 175.8,507.5 176.5,499.6 177.1,498.9 177.8,506.5 178.4,507.5 179.0,506.5 179.7,507.5 180.3,506.5 181.0,500.7 181.6,507.5 182.2,492.5 182.9,507.5 183.5,506.5 184.2,491.2 184.8,499.5 185.4,496.8 186.1,506.5 186.7,507.5 187.4,499.0 188.0,501.3 188.6,507.5 189.3,498.9 189.9,506.5 190.6,492.3 191.2,510.4 191.8,507.5 192.5,501.1 193.1,491.5 193.8,507.5 194.4,507.5 195.0,506.5 195.7,507.5 196.3,494.5 197.0,507.5 197.6,506.5 198.2,507.5 198.9,502.3 199.5,499.0 200.2,500.5 200.8,499.4 201.4,507.5 202.1,507.5 202.7,507.5 203.4,502.4 204.0,499.3 204.6,507.5 205.3,499.8 205.9,507.5 206.6,506.5 207.2,498.5 207.8,503.1 208.5,507.5 209.1,502.7 209.8,507.5 210.4,507.5 211.0,497.7 211.7,507.5 212.3,498.3 213.0,506.5 213.6,507.5 214.2,498.7 214.9,507.5 215.5,506.5 216.2,498.7 216.8,496.5 217.4,506.5 218.1,499.7 218.7,507.5 219.4,509.8 220.0,501.9 220.6,507.5 221.3,507.5 221.9,507.5 222.6,507.5 223.2,507.5 223.8,507.5 224.5,507.5 225.1,507.5 225.8,507.5 226.4,506.5 227.0,507.5 227.7,495.5 228.3,507.5 229.0,506.5 229.6,497.1 230.2,499.4 230.9,503.2 231.5,506.5 232.2,510.5 232.8,503.0 233.4,507.5 234.1,507.5 234.7,507.5 235.4,499.7 236.0,507.5 236.6,496.8 237.3,506.5 237.9,500.8 238.6,507.5 239.2,506.5 239.8,497.4 240.5,497.6 241.1,507.5 241.8,507.5 242.4,496.8 243.0,507.5 243.7,507.5 244.3,507.5 245.0,507.5 245.6,507.5 246.2,507.5 246.9,507.5 247.5,506.5 248.2,499.5 248.8,497.4 249.4,497.8 250.1,506.5 250.7,507.5 251.4,507.5 252.0,506.5 252.6,506.5 253.3,497.6 253.9,493.9 254.6,503.4 255.2,509.1 255.8,500.8 256.5,497.5 257.1,507.5 257.8,498.4 258.4,507.5 259.0,500.9 259.7,497.7 260.3,502.5 261.0,506.5 261.6,498.0 262.2,506.5 262.9,507.5 263.5,500.3 264.2,496.7 264.8,507.5 265.4,506.5 266.1,502.4 266.7,502.2 267.4,496.6 268.0,498.0 268.6,506.5 269.3,506.5 269.9,507.5 270.6,507.5 271.2,507.5 271.8,507.5 272.5,500.9 273.1,507.5 273.8,507.5 274.4,500.9 275.0,503.4 275.7,507.5 276.3,502.5 277.0,507.5 277.6,506.5 278.2,500.2 278.9,507.5 279.5,499.4 280.2,499.9 280.8,506.5 281.4,500.1 282.1,500.5 282.7,507.5 283.4,506.5 284.0,506.5 284.6,501.3 285.3,506.5 285.9,500.4 286.6,506.5 287.2,507.5 287.8,506.5 288.5,509.6 289.1,506.5 289.8,503.3 290.4,500.2 291.0,497.0 291.7,503.5 292.3,510.0 293.0,498.7 293.6,507.5 294.2,502.0 294.9,502.4 295.5,507.5 296.2,501.8 296.8,502.3 297.4,506.5 298.1,506.5 298.7,503.4 299.4,506.5 300.0,501.2 300.6,506.5 301.3,507.5 301.9,498.7 302.6,500.3 303.2,506.5 303.8,506.5 304.5,507.5 305.1,507.5 305.8,507.5 306.4,507.5 307.0,496.9 307.7,503.4 308.3,509.1 309.0,498.9 309.6,503.5 310.2,506.5 310.9,506.5 311.5,507.5 312.2,498.0 312.8,507.5 313.4,506.5 314.1,503.2 314.7,501.8 315.4,506.5 316.0,501.4 316.6,497.7 317.3,506.5 317.9,511.9 318.6,496.9 319.2,497.1 319.8,507.5 320.5,501.0 321.1,507.5 321.8,498.4 322.4,507.5 323.0,494.8 323.7,503.4 324.3,494.3 325.0,507.5 325.6,494.1 326.2,496.8 326.9,506.5 327.5,507.5 328.2,498.0 328.8,502.1 329.4,500.4 330.1,507.5 330.7,507.5 331.4,499.7 332.0,506.5 332.6,498.5 333.3,506.5 333.9,497.0 334.6,507.5 335.2,506.5 335.8,506.5 336.5,506.5 337.1,499.7 337.8,507.5 338.4,506.5 339.0,499.9 339.7,491.6 340.3,501.0 341.0,507.5 341.6,500.0 342.2,498.3 342.9,498.2 343.5,507.5 344.2,507.5 344.8,500.1 345.4,496.7 346.1,493.4 346.7,507.5 347.4,507.5 348.0,511.5 348.6,496.9 349.3,507.5 349.9,506.5 350.6,507.5 351.2,507.5 351.8,507.5 352.5,507.5 353.1,499.5 353.8,507.5 354.4,492.6 355.0,507.5 355.7,507.5 356.3,506.5 357.0,507.5 357.6,507.5 358.2,503.3 358.9,507.5 359.5,498.0 360.2,485.0 360.8,502.3 361.4,503.5 362.1,507.5 362.7,507.5 363.4,503.0 364.0,491.1 364.6,507.5 365.3,507.5 365.9,500.1 366.6,507.5 367.2,506.5 367.8,498.6 368.5,507.5 369.1,501.7 369.8,506.5 370.4,496.9 371.0,498.2 371.7,499.9 372.3,507.5 373.0,507.5 373.6,506.5 374.2,506.5 374.9,497.4 375.5,502.2 376.2,507.5 376.8,507.5 377.4,506.5 378.1,506.5 378.7,507.5 379.4,500.6 380.0,507.5 380.6,495.6 381.3,500.4 381.9,507.5 382.6,506.5 383.2,498.8 383.8,507.5 384.5,507.5 385.1,506.5 385.8,507.5 386.4,499.4 387.0,497.0 387.7,507.5 388.3,500.6 389.0,493.3 389.6,507.5 390.2,506.5 390.9,507.5 391.5,506.5 392.2,501.2 392.8,507.5 393.4,507.5 394.1,507.5 394.7,506.5 395.4,507.5 396.0,502.9 396.6,501.5 397.3,507.5 397.9,507.5 398.6,507.5 399.2,507.5 399.8,507.5 400.5,511.1 401.1,507.5 401.8,506.5 402.4,497.1 403.0,506.5 403.7,507.5 404.3,510.1 405.0,506.5 405.6,497.4 406.2,501.6 406.9,506.5 407.5,500.6 408.2,507.5 408.8,506.5 409.4,507.5 410.1,501.0 410.7,498.6 411.4,507.5 412.0,498.8 412.6,497.4 413.3,507.5 413.9,501.4 414.6,501.0 415.2,507.5 415.8,497.7 416.5,507.5 417.1,507.5 417.8,507.5 418.4,512.0 419.0,502.5 419.7,500.2 420.3,496.7 421.0,506.5 421.6,501.4 422.2,496.7 422.9,507.5 423.5,506.5 424.2,496.9 424.8,507.5 425.4,500.0 426.1,498.5 426.7,501.5 427.4,493.9 428.0,507.5 428.6,507.5 429.3,506.5 429.9,507.5 430.6,500.0 431.2,507.5 431.8,507.5 432.5,507.5 433.1,511.2 433.8,507.5 434.4,507.5 435.0,506.5 435.7,503.4 436.3,497.9 437.0,507.5 437.6,501.2 438.2,507.5 438.9,507.5 439.5,502.6 440.2,503.4 440.8,507.5 441.4,506.5 442.1,507.5 442.7,502.2 443.4,507.5 444.0,502.1 444.6,502.0 445.3,507.5 445.9,496.0 446.6,507.5 447.2,500.8 447.8,506.5 448.5,507.5 449.1,507.5 449.8,493.7 450.4,507.5 451.0,507.5 451.7,499.4 452.3,507.5 453.0,496.8 453.6,507.5 454.2,507.5 454.9,506.5 455.5,498.1 456.2,503.4 456.8,507.5 457.4,506.5 458.1,500.2 458.7,506.5 459.4,506.5 460.0,506.5 460.6,507.5 461.3,507.5 461.9,506.5 462.6,507.5 463.2,507.5 463.8,511.3 464.5,507.5 465.1,507.5 465.8,500.0 466.4,507.5 467.0,502.6 467.7,507.5 468.3,507.5 469.0,494.5 469.6,507.5 470.2,507.5 470.9,507.5 471.5,507.5 472.2,497.3 472.8,507.5 473.4,501.3 474.1,499.3 474.7,503.1 475.4,507.5 476.0,507.5 476.6,507.5 477.3,507.5 477.9,497.1 478.6,498.7 479.2,506.5 479.8,500.9 480.5,507.5 481.1,506.5 481.8,506.5 482.4,507.5 483.0,503.5 483.7,507.5 484.3,507.5 485.0,497.9 485.6,498.0 486.2,498.7 486.9,497.2 487.5,495.7 488.2,496.9 488.8,506.5 489.4,502.9 490.1,507.5 490.7,506.5 491.4,507.5 492.0,497.6 492.6,506.5 493.3,506.5 493.9,506.5 494.6,502.0 495.2,511.0 495.8,499.4 496.5,507.5 497.1,507.5 497.8,501.0 498.4,507.5 499.0,507.5 499.7,507.5 500.3,498.7 501.0,506.5 501.6,491.2 502.2,501.1 502.9,507.5 503.5,507.5 504.2,498.5 504.8,503.3 505.4,507.5 506.1,506.5 506.7,507.5 507.4,506.5 508.0,507.5 508.6,507.5 509.3,507.5 509.9,507.5 510.6,506.5 511.2,507.5 511.8,509.9 512.5,506.5 513.1,506.5 513.8,507.5 514.4,507.5 515.0,496.9 515.7,507.5 516.3,497.1 517.0,507.5 517.6,502.7 518.2,498.4 518.9,501.8 519.5,499.5 520.2,498.8 520.8,498.6 521.4,507.5 522.1,506.5 522.7,499.5 523.4,507.5 524.0,507.5 524.6,500.1 525.3,507.5 525.9,498.5 526.6,503.5 527.2,491.4 527.8,506.5 528.5,506.5 529.1,499.0 529.8,507.5 530.4,498.1 531.0,507.5 531.7,506.5 532.3,507.5 533.0,507.5 533.6,500.6 534.2,507.5 534.9,500.9 535.5,507.5 536.2,506.5 536.8,510.4 537.4,503.0 538.1,502.7 538.7,507.5 539.4,506.5 540.0,507.5 540.6,497.6 541.3,507.5 541.9,507.5 542.6,507.5 543.2,507.5 543.8,501.0 544.5,506.5 545.1,506.5 545.8,506.5 546.4,492.1 547.0,509.8 547.7,506.5 548.3,507.5 549.0,499.1 549.6,497.7 550.2,507.5 550.9,509.3 551.5,500.9 552.2,498.5 552.8,511.6 553.4,498.0 554.1,500.4 554.7,507.5 555.4,506.5 556.0,511.7 556.6,499.8 557.3,503.1 557.9,502.7 558.6,507.5 559.2,502.4 559.8,495.1 560.5,501.9 561.1,506.5 561.8,507.5 562.4,507.5 563.0,507.5 563.7,501.2 564.3,507.5 565.0,509.2 565.6,498.8 566.2,497.0 566.9,501.3 567.5,499.6 568.2,507.5 568.8,507.5 569.4,500.6 570.1,507.5 570.7,500.4 571.4,503.2 572.0,501.2 572.6,507.5 573.3,499.4 573.9,507.5 574.6,499.8 575.2,507.5 575.8,506.5 576.5,507.5 577.1,492.3 577.8,506.5 578.4,501.3 579.0,507.5 579.7,496.9 580.3,507.5 581.0,506.5 581.6,499.2 582.2,507.5 582.9,498.4 583.5,506.5 584.2,507.5 584.8,502.3 585.4,500.0 586.1,491.1 586.7,507.5 587.4,502.4 588.0,502.1 588.6,507.5 589.3,496.6 589.9,503.2 590.6,506.5 591.2,491.8 591.8,498.6 592.5,503.3 593.1,507.5 593.8,507.5 594.4,495.8 595.0,503.2 595.7,500.0 596.3,506.5 597.0,492.0 597.6,507.5 598.2,507.5 598.9,501.6 599.5,507.5 600.2,499.6 600.8,507.5 601.4,506.5 602.1,500.1 602.7,497.9 603.4,509.8 604.0,501.4 604.6,497.6 605.3,498.8 605.9,500.0 606.6,507.5 607.2,507.5 607.8,498.4 608.5,500.2 609.1,506.5 609.8,499.0 610.4,507.5 611.0,502.0 611.7,496.5 612.3,507.5 613.0,503.0 613.6,507.5 614.2,498.9 614.9,491.1 615.5,500.8 616.2,499.5 616.8,498.0 617.4,507.5 618.1,501.9 618.7,497.5 619.4,507.5 620.0,507.5 620.6,493.4 621.3,507.5 621.9,507.5 622.6,502.1 623.2,506.5 623.8,506.5 624.5,507.5 625.1,498.7 625.8,507.5 626.4,507.5 627.0,507.5 627.7,506.5 628.3,503.3 629.0,506.5 629.6,506.5 630.2,503.0 630.9,501.5 631.5,506.5 632.2,497.9 632.8,497.7 633.4,498.0 634.1,498.9 634.7,499.3 635.4,496.8 636.0,506.5 636.6,506.5 637.3,507.5 637.9,506.5 638.6,502.7 639.2,501.9 639.8,507.5 640.5,494.3 641.1,507.5 641.8,510.8 642.4,498.1 643.0,506.5 643.7,494.0 644.3,497.4 645.0,497.0 645.6,506.5 646.2,507.5 646.9,507.5 647.5,507.5 648.2,507.5 648.8,502.1 649.4,507.5 650.1,506.5 650.7,506.5 651.4,507.5 652.0,502.7 652.6,511.0 653.3,511.6 653.9,500.2 654.6,499.7 655.2,507.5 655.8,511.8 656.5,506.5 657.1,507.5 657.8,507.5 658.4,506.5 659.0,507.5 659.7,497.8 660.3,497.5 661.0,500.8 661.6,506.5 662.2,502.9 662.9,506.5 663.5,507.5 664.2,507.5 664.8,506.5 665.4,500.1 666.1,498.5 666.7,501.1 667.4,507.5 668.0,507.5 668.6,507.5 669.3,497.9 669.9,507.5 670.6,507.5 671.2,501.6 671.8,500.8 672.5,507.5 673.1,507.5 673.8,507.5 674.4,507.5 675.0,506.5 675.7,498.4 676.3,497.2 677.0,507.5 677.6,507.5 678.2,507.5 678.9,503.0 679.5,496.6 680.2,502.7 680.8,497.2 681.4,507.5 682.1,507.5 682.7,511.8 683.4,501.5 684.0,507.5 684.6,498.1 685.3,507.5 685.9,507.5 686.6,495.9 687.2,507.5 687.8,506.5 688.5,506.5 689.1,510.7 689.8,492.9 690.4,507.5 691.0,507.5 691.7,500.9 692.3,507.5 693.0,507.5 693.6,498.2 694.2,507.5 694.9,506.5 695.5,502.3 696.2,507.5 696.8,507.5 697.4,506.5 698.1,507.5 698.7,507.5 699.4,496.9 700.0,507.5 700.6,499.5 701.3,498.2 701.9,502.5 702.6,506.5 703.2,501.2 703.8,506.5 704.5,496.8 705.1,507.5 705.8,507.5 706.4,507.5 707.0,507.5 707.7,507.5 708.3,507.5 709.0,506.5 709.6,507.5 710.2,507.5 710.9,501.7 711.5,507.5 712.2,497.3 712.8,498.4 713.4,506.5 714.1,506.5 714.7,506.5 715.4,507.5 716.0,500.9 716.6,500.2 717.3,501.5 717.9,502.6 718.6,507.5 719.2,499.5 719.8,507.5 720.5,502.2 721.1,507.5 721.8,507.5 722.4,507.5 723.0,507.5 723.7,500.6 724.3,496.5 725.0,510.2 725.6,500.7 726.2,500.2 726.9,497.4 727.5,501.8 728.2,507.5 728.8,499.6 729.4,507.5 730.1,506.5 730.7,506.5 731.4,495.7 732.0,502.4 732.6,506.5 733.3,496.5 733.9,502.3 734.6,507.5 735.2,496.9 735.8,511.2 736.5,507.5 737.1,507.5 737.8,507.5 738.4,498.4 739.0,507.5 739.7,501.0 740.3,506.5 741.0,506.5 741.6,510.1 742.2,491.6 742.9,506.5 743.5,506.5 744.2,506.5 744.8,507.5 745.4,507.5 746.1,507.5 746.7,499.9 747.4,499.0 748.0,499.6 748.6,498.1 749.3,507.5 749.9,507.5 750.6,501.8 751.2,502.5 751.8,507.5 752.5,509.3 753.1,502.1 753.8,507.5 754.4,507.5 755.0,507.5 755.7,502.6 756.3,507.5 757.0,491.8 757.6,509.3 758.2,502.0 758.9,510.5 759.5,498.5 760.2,507.5 760.8,500.5 761.4,507.5 762.1,507.5 762.7,507.5 763.4,506.5 764.0,494.4 764.6,507.5 765.3,496.6 765.9,507.5 766.6,496.8 767.2,498.0 767.8,507.5 768.5,507.5 769.1,509.5 769.8,507.5 770.4,507.5 771.0,497.3 771.7,507.5 772.3,492.8 773.0,498.4 773.6,499.4 774.2,507.5 774.9,500.1 775.5,507.5 776.2,507.5 776.8,502.2 777.4,502.4 778.1,499.3 778.7,502.5 779.4,500.4 780.0,498.8 780.6,499.9 781.3,506.5 781.9,507.5 782.6,507.5 783.2,507.5 783.8,499.4 784.5,506.5 785.1,500.9 785.8,507.5 786.4,497.1 787.0,498.9 787.7,501.4 788.3,496.7 789.0,507.5 789.6,509.7 790.2,507.5 790.9,507.5 791.5,507.5 792.2,498.0 792.8,506.5 793.4,506.5 794.1,492.6 794.7,507.5 795.4,507.5 796.0,507.5 796.6,495.6 797.3,502.6 797.9,498.6 798.6,507.5 799.2,507.5 799.8,500.8 800.5,506.5 801.1,507.5 801.8,506.5 802.4,507.5 803.0,498.4 803.7,499.4 804.3,507.5 805.0,507.5 805.6,506.5 806.2,497.6 806.9,507.5 807.5,498.4 808.2,498.0 808.8,497.4 809.4,507.5 810.1,501.8 810.7,497.0 811.4,506.5 812.0,507.5 812.6,507.5 813.3,507.5 813.9,506.5 814.6,499.4 815.2,507.5 815.8,506.5 816.5,506.5 817.1,506.5 817.8,502.9 818.4,502.0 819.0,507.5 819.7,507.5 820.3,500.3 821.0,507.5 821.6,507.5 822.2,507.5 822.9,507.5 823.5,499.3 824.2,507.5 824.8,506.5 825.4,507.5 826.1,507.5 826.7,506.5 827.4,506.5 828.0,500.2 828.6,506.5 829.3,507.5 829.9,507.5 830.6,507.5 831.2,500.7 831.8,501.8 832.5,507.5 833.1,501.2 833.8,497.0 834.4,507.5 835.0,502.1 835.7,500.6 836.3,506.5 837.0,507.5 837.6,506.5 838.2,495.7 838.9,507.5 839.5,507.5 840.2,499.2 840.8,509.2 841.4,506.5 842.1,507.5 842.7,507.5 843.4,507.5 844.0,500.5 844.6,507.5 845.3,499.0 845.9,507.5 846.6,498.6 847.2,507.5 847.8,507.5 848.5,497.8 849.1,507.5 849.8,507.5 850.4,506.5 851.0,496.9 851.7,506.5 852.3,506.5 853.0,503.4 853.6,507.5 854.2,502.7 854.9,498.2 855.5,501.6 856.2,498.8 856.8,507.5 857.4,506.5 858.1,506.5 858.7,507.5 859.4,497.4 860.0,506.5 860.6,500.6 861.3,507.5 861.9,502.2 862.6,506.5 863.2,502.7 863.8,498.0 864.5,506.5 865.1,507.5 865.8,500.1 866.4,502.2 867.0,499.1 867.7,503.2 868.3,507.5 869.0,507.5 869.6,507.5 870.2,506.5 870.9,496.8 871.5,502.5 872.2,507.5 872.8,507.5 873.4,507.5 874.1,501.7 874.7,494.2 875.4,506.5 876.0,507.5 876.6,498.3 877.3,486.7 877.9,506.5 878.6,498.2 879.2,495.6 879.8,502.0 880.5,506.5 881.1,506.5 881.8,502.3 882.4,503.1 883.0,507.5 883.7,507.5 884.3,495.3 885.0,507.5 885.6,507.5 886.2,507.5 886.9,506.5 887.5,496.5 888.2,503.3 888.8,507.5 889.4,503.0 890.1,502.2 890.7,507.5 891.4,506.5 892.0,496.9 892.6,501.7 893.3,493.6 893.9,502.5 894.6,502.3 895.2,507.5 895.8,496.9 896.5,507.5 897.1,502.1 897.8,506.5 898.4,507.5 899.0,507.5 899.7,506.5 900.3,498.2 901.0,507.5 901.6,492.1 902.2,506.5 902.9,506.5 903.5,511.9 904.2,507.5 904.8,499.9 905.4,506.5 906.1,502.4 906.7,500.3 907.4,497.3 908.0,507.5 908.6,496.9 909.3,498.2 909.9,507.5 910.6,507.5 911.2,506.5 911.8,507.5 912.5,507.5 913.1,498.6 913.8,501.8 914.4,503.1 915.0,507.5 915.7,506.5 916.3,506.5 917.0,507.5 917.6,507.5 918.2,501.1 918.9,506.5 919.5,500.8 920.2,509.2 920.8,506.5 921.4,496.9 922.1,507.5 922.7,507.5 923.4,502.9 924.0,506.5 924.6,510.3 925.3,502.6 925.9,507.5 926.6,499.4 927.2,507.5 927.8,498.8 928.5,500.2 929.1,507.5 929.8,507.5 930.4,507.5 931.0,502.5 931.7,507.5 932.3,500.7 933.0,507.5 933.6,500.6 934.2,499.4 934.9,499.6 935.5,507.5 936.2,502.2 936.8,501.5 937.4,498.7 938.1,497.0 938.7,496.8 939.4,507.5 940.0,498.9 940.6,507.5 941.3,507.5 941.9,506.5 942.6,506.5 943.2,507.5 943.8,500.9 944.5,506.5 945.1,494.0 945.8,506.5 946.4,507.5 947.0,493.3 947.7,498.6 948.3,506.5 949.0,501.6 949.6,507.5 950.2,507.5 950.9,497.3 951.5,507.5 952.2,506.5 952.8,506.5 953.4,506.5 954.1,497.9 954.7,506.5 955.4,507.5 956.0,507.5 956.6,507.5 957.3,507.5 957.9,502.1 958.6,500.1 959.2,507.5 959.8,507.5 960.5,507.5 961.1,499.7 961.8,507.5 962.4,507.5 963.0,507.5 963.7,500.1 964.3,507.5 965.0,503.2 965.6,498.4 966.2,507.5 966.9,498.9 967.5,511.8 968.2,506.5 968.8,507.5 969.4,498.4 970.1,506.5 970.7,500.2 971.4,509.6 972.0,507.5 972.6,498.0 973.3,494.8 973.9,497.9 974.6,497.4 975.2,501.1 975.8,507.5 976.5,503.4 977.1,496.8 977.8,507.5 978.4,507.5 979.0,498.0 979.7,509.1 980.3,506.5 981.0,507.5 981.6,507.5 982.2,506.5 982.9,501.3 983.5,507.5 984.2,501.7 984.8,507.5 985.4,510.3 986.0,506.5 101.0,506.5 101.5,498.3 102.1,507.5 102.8,502.6 103.4,500.7 104.1,507.5 104.7,507.5 105.3,507.5 106.0,507.5 106.6,507.5 107.3,507.5 107.9,503.4 108.5,506.5 109.2,507.5 109.8,506.5 110.5,507.5 111.1,506.5 111.7,507.5 112.4,507.5 113.0,507.5 113.7,507.5 114.3,506.5 114.9,509.2 115.6,501.1 116.2,498.7 116.9,498.5 117.5,507.5 118.1,506.5 118.8,501.3 119.4,499.0 120.1,506.5 120.7,507.5 121.3,506.5 122.0,507.5 122.6,507.5 123.3,507.5 123.9,495.8 124.5,507.5 125.2,507.5 125.8,507.5 126.5,496.6 127.1,507.5 127.7,507.5 128.4,506.5 129.0,497.3 129.7,507.5 130.3,501.6 130.9,506.5 131.6,506.5 132.2,507.5 132.9,496.6 133.5,507.5 134.1,486.0 134.8,506.5 135.4,507.5 136.1,506.5 136.7,497.4 137.3,499.4 138.0,498.9 139.0,506.5 175.0,506.5" stroke="#0080ff"/>
<path d="M236.5 507V394.0M237.5 507V470.0M287.5 507V387.0M288.5 507V380.0M289.5 507V415.0M302.5 507V444.0M303.5 507V381.0M304.5 507V415.0M306.5 507V380.0M308.5 507V410.0M309.5 507V397.0M328.5 507V379.0M329.5 507V410.0M330.5 507V362.0M331.5 507V423.0M344.5 507V428.0M345.5 507V348.0M346.5 507V363.0M347.5 507V440.0" stroke="#0080ff"/>
</g>
<rect x="169.5" y="416.5" width="12" height="12" fill="none" stroke="#c000ff" stroke-width="1" shape-rendering="crispEdges"/>
<rect x="169.5" y="466.5" width="12" height="12" fill="#00eeee" stroke="#00eeee" stroke-width="1" shape-rendering="crispEdges"/>
<rect x="582.5" y="466.5" width="12" height="12" fill="#00eeee" stroke="#00eeee" stroke-width="1" shape-rendering="crispEdges"/>
<circle cx="102.3" cy="478.7" r="5.1" fill="none" stroke="#c04000" stroke-width="1.25"/>
<path d="M97.1 478.7h-1.5M107.5 478.7h1.5M102.3 473.5v-1.5M102.3 483.9v1.5" stroke="#c04000" stroke-width="1" fill="none"/>
<circle cx="135.5" cy="460.5" r="5.1" fill="none" stroke="#c04000" stroke-width="1.25"/>
<path d="M130.3 460.5h-1.5M140.7 460.5h1.5M135.5 455.3v-1.5M135.5 465.7v1.5" stroke="#c04000" stroke-width="1" fill="none"/>
<circle cx="176.3" cy="479.5" r="5.1" fill="none" stroke="#c04000" stroke-width="1.25"/>
<path d="M171.1 479.5h-1.5M181.5 479.5h1.5M176.3 474.3v-1.5M176.3 484.7v1.5" stroke="#c04000" stroke-width="1" fill="none"/>
<circle cx="209.2" cy="478.3" r="5.1" fill="none" stroke="#c04000" stroke-width="1.25"/>
<path d="M204.0 478.3h-1.5M214.4 478.3h1.5M209.2 473.1v-1.5M209.2 483.5v1.5" stroke="#c04000" stroke-width="1" fill="none"/>
<circle cx="213.7" cy="480.5" r="5.1" fill="none" stroke="#c04000" stroke-width="1.25"/>
<path d="M208.5 480.5h-1.5M218.9 480.5h1.5M213.7 475.3v-1.5M213.7 485.7v1.5" stroke="#c04000" stroke-width="1" fill="none"/>
<circle cx="245.5" cy="478.8" r="5.1" fill="none" stroke="#c04000" stroke-width="1.25"/>
<path d="M240.3 478.8h-1.5M250.7 478.8h1.5M245.5 473.6v-1.5M245.5 484.0v1.5" stroke="#c04000" stroke-width="1" fill="none"/>
<circle cx="250.8" cy="473.0" r="5.1" fill="none" stroke="#c04000" stroke-width="1.25"/>
<path d="M245.6 473.0h-1.5M256.0 473.0h1.5M250.8 467.8v-1.5M250.8 478.2v1.5" stroke="#c04000" stroke-width="1" fill="none"/>
<circle cx="282.5" cy="478.3" r="5.1" fill="none" stroke="#c04000" stroke-width="1.25"/>
<path d="M277.3 478.3h-1.5M287.7 478.3h1.5M282.5 473.1v-1.5M282.5 483.5v1.5" stroke="#c04000" stroke-width="1" fill="none"/>
<circle cx="287.8" cy="478.3" r="5.1" fill="none" stroke="#c04000" stroke-width="1.25"/>
<path d="M282.6 478.3h-1.5M293.0 478.3h1.5M287.8 473.1v-1.5M287.8 483.5v1.5" stroke="#c04000" stroke-width="1" fill="none"/>
<circle cx="319.2" cy="480.0" r="5.1" fill="none" stroke="#c04000" stroke-width="1.25"/>
<path d="M314.0 480.0h-1.5M324.4 480.0h1.5M319.2 474.8v-1.5M319.2 485.2v1.5" stroke="#c04000" stroke-width="1" fill="none"/>
<circle cx="323.3" cy="479.2" r="5.1" fill="none" stroke="#c04000" stroke-width="1.25"/>
<path d="M318.1 479.2h-1.5M328.5 479.2h1.5M323.3 474.0v-1.5M323.3 484.4v1.5" stroke="#c04000" stroke-width="1" fill="none"/>
<circle cx="356.3" cy="478.3" r="5.1" fill="none" stroke="#c04000" stroke-width="1.25"/>
<path d="M351.1 478.3h-1.5M361.5 478.3h1.5M356.3 473.1v-1.5M356.3 483.5v1.5" stroke="#c04000" stroke-width="1" fill="none"/>
<circle cx="360.8" cy="474.2" r="5.1" fill="none" stroke="#c04000" stroke-width="1.25"/>
<path d="M355.6 474.2h-1.5M366.0 474.2h1.5M360.8 469.0v-1.5M360.8 479.4v1.5" stroke="#c04000" stroke-width="1" fill="none"/>
<circle cx="393.3" cy="480.3" r="5.1" fill="none" stroke="#c04000" stroke-width="1.25"/>
<path d="M388.1 480.3h-1.5M398.5 480.3h1.5M393.3 475.1v-1.5M393.3 485.5v1.5" stroke="#c04000" stroke-width="1" fill="none"/>
<circle cx="397.8" cy="480.3" r="5.1" fill="none" stroke="#c04000" stroke-width="1.25"/>
<path d="M392.6 480.3h-1.5M403.0 480.3h1.5M397.8 475.1v-1.5M397.8 485.5v1.5" stroke="#c04000" stroke-width="1" fill="none"/>
<circle cx="430.4" cy="303.3" r="5.1" fill="none" stroke="#c04000" stroke-width="1.25"/>
<path d="M425.2 303.3h-1.5M435.6 303.3h1.5M430.4 298.1v-1.5M430.4 308.5v1.5" stroke="#c04000" stroke-width="1" fill="none"/>
<circle cx="434.4" cy="303.3" r="5.1" fill="none" stroke="#c04000" stroke-width="1.25"/>
<path d="M429.2 303.3h-1.5M439.6 303.3h1.5M434.4 298.1v-1.5M434.4 308.5v1.5" stroke="#c04000" stroke-width="1" fill="none"/>
<circle cx="467.5" cy="477.5" r="5.1" fill="none" stroke="#c04000" stroke-width="1.25"/>
<path d="M462.3 477.5h-1.5M472.7 477.5h1.5M467.5 472.3v-1.5M467.5 482.7v1.5" stroke="#c04000" stroke-width="1" fill="none"/>
<circle cx="471.7" cy="474.5" r="5.1" fill="none" stroke="#c04000" stroke-width="1.25"/>
<path d="M466.5 474.5h-1.5M476.9 474.5h1.5M471.7 469.3v-1.5M471.7 479.7v1.5" stroke="#c04000" stroke-width="1" fill="none"/>
<circle cx="504.5" cy="477.5" r="5.1" fill="none" stroke="#c04000" stroke-width="1.25"/>
<path d="M499.3 477.5h-1.5M509.7 477.5h1.5M504.5 472.3v-1.5M504.5 482.7v1.5" stroke="#c04000" stroke-width="1" fill="none"/>
<circle cx="508.7" cy="480.0" r="5.1" fill="none" stroke="#c04000" stroke-width="1.25"/>
<path d="M503.5 480.0h-1.5M513.9 480.0h1.5M508.7 474.8v-1.5M508.7 485.2v1.5" stroke="#c04000" stroke-width="1" fill="none"/>
<circle cx="540.8" cy="459.5" r="5.1" fill="none" stroke="#c04000" stroke-width="1.25"/>
<path d="M535.6 459.5h-1.5M546.0 459.5h1.5M540.8 454.3v-1.5M540.8 464.7v1.5" stroke="#c04000" stroke-width="1" fill="none"/>
<circle cx="545.8" cy="458.3" r="5.1" fill="none" stroke="#c04000" stroke-width="1.25"/>
<path d="M540.6 458.3h-1.5M551.0 458.3h1.5M545.8 453.1v-1.5M545.8 463.5v1.5" stroke="#c04000" stroke-width="1" fill="none"/>
<circle cx="577.5" cy="478.3" r="5.1" fill="none" stroke="#c04000" stroke-width="1.25"/>
<path d="M572.3 478.3h-1.5M582.7 478.3h1.5M577.5 473.1v-1.5M577.5 483.5v1.5" stroke="#c04000" stroke-width="1" fill="none"/>
<circle cx="582.0" cy="478.3" r="5.1" fill="none" stroke="#c04000" stroke-width="1.25"/>
<path d="M576.8 478.3h-1.5M587.2 478.3h1.5M582.0 473.1v-1.5M582.0 483.5v1.5" stroke="#c04000" stroke-width="1" fill="none"/>
<circle cx="614.5" cy="476.3" r="5.1" fill="none" stroke="#c04000" stroke-width="1.25"/>
<path d="M609.3 476.3h-1.5M619.7 476.3h1.5M614.5 471.1v-1.5M614.5 481.5v1.5" stroke="#c04000" stroke-width="1" fill="none"/>
<circle cx="618.7" cy="463.3" r="5.1" fill="none" stroke="#c04000" stroke-width="1.25"/>
<path d="M613.5 463.3h-1.5M623.9 463.3h1.5M618.7 458.1v-1.5M618.7 468.5v1.5" stroke="#c04000" stroke-width="1" fill="none"/>
<circle cx="651.3" cy="477.8" r="5.1" fill="none" stroke="#c04000" stroke-width="1.25"/>
<path d="M646.1 477.8h-1.5M656.5 477.8h1.5M651.3 472.6v-1.5M651.3 483.0v1.5" stroke="#c04000" stroke-width="1" fill="none"/>
<circle cx="655.8" cy="475.0" r="5.1" fill="none" stroke="#c04000" stroke-width="1.25"/>
<path d="M650.6 475.0h-1.5M661.0 475.0h1.5M655.8 469.8v-1.5M655.8 480.2v1.5" stroke="#c04000" stroke-width="1" fill="none"/>
<circle cx="688.7" cy="467.5" r="5.1" fill="none" stroke="#c04000" stroke-width="1.25"/>
<path d="M683.5 467.5h-1.5M693.9 467.5h1.5M688.7 462.3v-1.5M688.7 472.7v1.5" stroke="#c04000" stroke-width="1" fill="none"/>
<circle cx="692.8" cy="480.5" r="5.1" fill="none" stroke="#c04000" stroke-width="1.25"/>
<path d="M687.6 480.5h-1.5M698.0 480.5h1.5M692.8 475.3v-1.5M692.8 485.7v1.5" stroke="#c04000" stroke-width="1" fill="none"/>
<circle cx="725.5" cy="459.2" r="5.1" fill="none" stroke="#c04000" stroke-width="1.25"/>
<path d="M720.3 459.2h-1.5M730.7 459.2h1.5M725.5 454.0v-1.5M725.5 464.4v1.5" stroke="#c04000" stroke-width="1" fill="none"/>
<circle cx="729.7" cy="467.5" r="5.1" fill="none" stroke="#c04000" stroke-width="1.25"/>
<path d="M724.5 467.5h-1.5M734.9 467.5h1.5M729.7 462.3v-1.5M729.7 472.7v1.5" stroke="#c04000" stroke-width="1" fill="none"/>
<circle cx="762.5" cy="475.3" r="5.1" fill="none" stroke="#c04000" stroke-width="1.25"/>
<path d="M757.3 475.3h-1.5M767.7 475.3h1.5M762.5 470.1v-1.5M762.5 480.5v1.5" stroke="#c04000" stroke-width="1" fill="none"/>
<circle cx="766.7" cy="478.3" r="5.1" fill="none" stroke="#c04000" stroke-width="1.25"/>
<path d="M761.5 478.3h-1.5M771.9 478.3h1.5M766.7 473.1v-1.5M766.7 483.5v1.5" stroke="#c04000" stroke-width="1" fill="none"/>
<circle cx="799.5" cy="469.5" r="5.1" fill="none" stroke="#c04000" stroke-width="1.25"/>
<path d="M794.3 469.5h-1.5M804.7 469.5h1.5M799.5 464.3v-1.5M799.5 474.7v1.5" stroke="#c04000" stroke-width="1" fill="none"/>
<circle cx="803.7" cy="480.5" r="5.1" fill="none" stroke="#c04000" stroke-width="1.25"/>
<path d="M798.5 480.5h-1.5M808.9 480.5h1.5M803.7 475.3v-1.5M803.7 485.7v1.5" stroke="#c04000" stroke-width="1" fill="none"/>
<circle cx="835.5" cy="462.5" r="5.1" fill="none" stroke="#c04000" stroke-width="1.25"/>
<path d="M830.3 462.5h-1.5M840.7 462.5h1.5M835.5 457.3v-1.5M835.5 467.7v1.5" stroke="#c04000" stroke-width="1" fill="none"/>
<circle cx="840.5" cy="475.5" r="5.1" fill="none" stroke="#c04000" stroke-width="1.25"/>
<path d="M835.3 475.5h-1.5M845.7 475.5h1.5M840.5 470.3v-1.5M840.5 480.7v1.5" stroke="#c04000" stroke-width="1" fill="none"/>
<circle cx="872.5" cy="478.3" r="5.1" fill="none" stroke="#c04000" stroke-width="1.25"/>
<path d="M867.3 478.3h-1.5M877.7 478.3h1.5M872.5 473.1v-1.5M872.5 483.5v1.5" stroke="#c04000" stroke-width="1" fill="none"/>
<circle cx="877.5" cy="464.5" r="5.1" fill="none" stroke="#c04000" stroke-width="1.25"/>
<path d="M872.3 464.5h-1.5M882.7 464.5h1.5M877.5 459.3v-1.5M877.5 469.7v1.5" stroke="#c04000" stroke-width="1" fill="none"/>
<circle cx="909.2" cy="477.0" r="5.1" fill="none" stroke="#c04000" stroke-width="1.25"/>
<path d="M904.0 477.0h-1.5M914.4 477.0h1.5M909.2 471.8v-1.5M909.2 482.2v1.5" stroke="#c04000" stroke-width="1" fill="none"/>
<circle cx="913.7" cy="476.3" r="5.1" fill="none" stroke="#c04000" stroke-width="1.25"/>
<path d="M908.5 476.3h-1.5M918.9 476.3h1.5M913.7 471.1v-1.5M913.7 481.5v1.5" stroke="#c04000" stroke-width="1" fill="none"/>
<circle cx="946.3" cy="471.3" r="5.1" fill="none" stroke="#c04000" stroke-width="1.25"/>
<path d="M941.1 471.3h-1.5M951.5 471.3h1.5M946.3 466.1v-1.5M946.3 476.5v1.5" stroke="#c04000" stroke-width="1" fill="none"/>
<circle cx="950.5" cy="478.3" r="5.1" fill="none" stroke="#c04000" stroke-width="1.25"/>
<path d="M945.3 478.3h-1.5M955.7 478.3h1.5M950.5 473.1v-1.5M950.5 483.5v1.5" stroke="#c04000" stroke-width="1" fill="none"/>
<circle cx="983.3" cy="463.3" r="5.1" fill="none" stroke="#c04000" stroke-width="1.25"/>
<path d="M978.1 463.3h-1.5M988.5 463.3h1.5M983.3 458.1v-1.5M983.3 468.5v1.5" stroke="#c04000" stroke-width="1" fill="none"/>
<circle cx="102.3" cy="515.7" r="5.6" fill="#c8c800"/>
<path d="M102.3 520.7v1.5" stroke="#c8c800" stroke-width="1.5" fill="none"/>
<circle cx="135.5" cy="515.7" r="5.6" fill="#c8c800"/>
<path d="M135.5 520.7v1.5" stroke="#c8c800" stroke-width="1.5" fill="none"/>
<circle cx="176.3" cy="515.7" r="5.6" fill="#c8c800"/>
<path d="M176.3 520.7v1.5" stroke="#c8c800" stroke-width="1.5" fill="none"/>
<circle cx="209.2" cy="515.7" r="5.6" fill="#c8c800"/>
<path d="M209.2 520.7v1.5" stroke="#c8c800" stroke-width="1.5" fill="none"/>
<circle cx="213.7" cy="515.7" r="5.6" fill="#c8c800"/>
<path d="M213.7 520.7v1.5" stroke="#c8c800" stroke-width="1.5" fill="none"/>
<circle cx="245.5" cy="515.7" r="5.6" fill="#c8c800"/>
<path d="M245.5 520.7v1.5" stroke="#c8c800" stroke-width="1.5" fill="none"/>
<circle cx="250.8" cy="515.7" r="5.6" fill="#c8c800"/>
<path d="M250.8 520.7v1.5" stroke="#c8c800" stroke-width="1.5" fill="none"/>
<circle cx="282.5" cy="515.7" r="5.6" fill="#c8c800"/>
<path d="M282.5 520.7v1.5" stroke="#c8c800" stroke-width="1.5" fill="none"/>
<circle cx="287.8" cy="515.7" r="5.6" fill="#c8c800"/>
<path d="M287.8 520.7v1.5" stroke="#c8c800" stroke-width="1.5" fill="none"/>
<circle cx="319.2" cy="515.7" r="5.6" fill="#c8c800"/>
<path d="M319.2 520.7v1.5" stroke="#c8c800" stroke-width="1.5" fill="none"/>
<circle cx="323.3" cy="515.7" r="5.6" fill="#c8c800"/>
<path d="M323.3 520.7v1.5" stroke="#c8c800" stroke-width="1.5" fill="none"/>
<circle cx="356.3" cy="515.7" r="5.6" fill="#c8c800"/>
<path d="M356.3 520.7v1.5" stroke="#c8c800" stroke-width="1.5" fill="none"/>
<circle cx="360.8" cy="515.7" r="5.6" fill="#c8c800"/>
<path d="M360.8 520.7v1.5" stroke="#c8c800" stroke-width="1.5" fill="none"/>
<circle cx="393.3" cy="511.7" r="5.6" fill="#c8c800"/>
<path d="M393.3 516.7v1.5" stroke="#c8c800" stroke-width="1.5" fill="none"/>
<circle cx="397.8" cy="515.7" r="5.6" fill="#c8c800"/>
<path d="M397.8 520.7v1.5" stroke="#c8c800" stroke-width="1.5" fill="none"/>
<circle cx="430.4" cy="515.7" r="5.6" fill="#c8c800"/>
<path d="M430.4 520.7v1.5" stroke="#c8c800" stroke-width="1.5" fill="none"/>
<circle cx="434.4" cy="515.7" r="5.6" fill="#c8c800"/>
<path d="M434.4 520.7v1.5" stroke="#c8c800" stroke-width="1.5" fill="none"/>
<circle cx="467.5" cy="515.7" r="5.6" fill="#c8c800"/>
<path d="M467.5 520.7v1.5" stroke="#c8c800" stroke-width="1.5" fill="none"/>
<circle cx="471.7" cy="515.7" r="5.6" fill="#c8c800"/>
<path d="M471.7 520.7v1.5" stroke="#c8c800" stroke-width="1.5" fill="none"/>
<circle cx="504.5" cy="515.7" r="5.6" fill="#c8c800"/>
<path d="M504.5 520.7v1.5" stroke="#c8c800" stroke-width="1.5" fill="none"/>
<circle cx="508.7" cy="515.7" r="5.6" fill="#c8c800"/>
<path d="M508.7 520.7v1.5" stroke="#c8c800" stroke-width="1.5" fill="none"/>
<circle cx="540.8" cy="515.7" r="5.6" fill="#c8c800"/>
<path d="M540.8 520.7v1.5" stroke="#c8c800" stroke-width="1.5" fill="none"/>
<circle cx="545.8" cy="515.7" r="5.6" fill="#c8c800"/>
<path d="M545.8 520.7v1.5" stroke="#c8c800" stroke-width="1.5" fill="none"/>
<circle cx="577.5" cy="515.7" r="5.6" fill="#c8c800"/>
<path d="M577.5 520.7v1.5" stroke="#c8c800" stroke-width="1.5" fill="none"/>
<circle cx="582.0" cy="515.7" r="5.6" fill="#c8c800"/>
<path d="M582.0 520.7v1.5" stroke="#c8c800" stroke-width="1.5" fill="none"/>
<circle cx="614.5" cy="510.0" r="5.6" fill="#c8c800"/>
<path d="M614.5 515.0v1.5" stroke="#c8c800" stroke-width="1.5" fill="none"/>
<circle cx="618.7" cy="513.3" r="5.6" fill="#c8c800"/>
<path d="M618.7 518.3v1.5" stroke="#c8c800" stroke-width="1.5" fill="none"/>
<circle cx="651.3" cy="515.7" r="5.6" fill="#c8c800"/>
<path d="M651.3 520.7v1.5" stroke="#c8c800" stroke-width="1.5" fill="none"/>
<circle cx="655.8" cy="515.7" r="5.6" fill="#c8c800"/>
<path d="M655.8 520.7v1.5" stroke="#c8c800" stroke-width="1.5" fill="none"/>
<circle cx="688.7" cy="505.8" r="5.6" fill="#c8c800"/>
<path d="M688.7 510.8v1.5" stroke="#c8c800" stroke-width="1.5" fill="none"/>
<circle cx="692.8" cy="515.7" r="5.6" fill="#c8c800"/>
<path d="M692.8 520.7v1.5" stroke="#c8c800" stroke-width="1.5" fill="none"/>
<circle cx="725.5" cy="515.7" r="5.6" fill="#c8c800"/>
<path d="M725.5 520.7v1.5" stroke="#c8c800" stroke-width="1.5" fill="none"/>
<circle cx="729.7" cy="515.7" r="5.6" fill="#c8c800"/>
<path d="M729.7 520.7v1.5" stroke="#c8c800" stroke-width="1.5" fill="none"/>
<circle cx="762.5" cy="515.7" r="5.6" fill="#c8c800"/>
<path d="M762.5 520.7v1.5" stroke="#c8c800" stroke-width="1.5" fill="none"/>
<circle cx="766.7" cy="515.7" r="5.6" fill="#c8c800"/>
<path d="M766.7 520.7v1.5" stroke="#c8c800" stroke-width="1.5" fill="none"/>
<circle cx="799.5" cy="514.0" r="5.6" fill="#c8c800"/>
<path d="M799.5 519.0v1.5" stroke="#c8c800" stroke-width="1.5" fill="none"/>
<circle cx="803.7" cy="515.7" r="5.6" fill="#c8c800"/>
<path d="M803.7 520.7v1.5" stroke="#c8c800" stroke-width="1.5" fill="none"/>
<circle cx="835.5" cy="515.7" r="5.6" fill="#c8c800"/>
<path d="M835.5 520.7v1.5" stroke="#c8c800" stroke-width="1.5" fill="none"/>
<circle cx="840.5" cy="515.7" r="5.6" fill="#c8c800"/>
<path d="M840.5 520.7v1.5" stroke="#c8c800" stroke-width="1.5" fill="none"/>
<circle cx="872.5" cy="513.0" r="5.6" fill="#c8c800"/>
<path d="M872.5 518.0v1.5" stroke="#c8c800" stroke-width="1.5" fill="none"/>
<circle cx="877.5" cy="515.7" r="5.6" fill="#c8c800"/>
<path d="M877.5 520.7v1.5" stroke="#c8c800" stroke-width="1.5" fill="none"/>
<circle cx="909.2" cy="515.7" r="5.6" fill="#c8c800"/>
<path d="M909.2 520.7v1.5" stroke="#c8c800" stroke-width="1.5" fill="none"/>
<circle cx="913.7" cy="515.7" r="5.6" fill="#c8c800"/>
<path d="M913.7 520.7v1.5" stroke="#c8c800" stroke-width="1.5" fill="none"/>
<circle cx="946.3" cy="515.7" r="5.6" fill="#c8c800"/>
<path d="M946.3 520.7v1.5" stroke="#c8c800" stroke-width="1.5" fill="none"/>
<circle cx="950.5" cy="515.7" r="5.6" fill="#c8c800"/>
<path d="M950.5 520.7v1.5" stroke="#c8c800" stroke-width="1.5" fill="none"/>
<circle cx="983.3" cy="515.7" r="5.6" fill="#c8c800"/>
<path d="M983.3 520.7v1.5" stroke="#c8c800" stroke-width="1.5" fill="none"/>
<path d="M103.5 442.5L95.5 454.5L111.5 454.5Z" fill="none" stroke="#4169e1" stroke-width="1" shape-rendering="crispEdges"/>
<path d="M111.5 442.5L103.5 454.5L119.5 454.5Z" fill="none" stroke="#4169e1" stroke-width="1" shape-rendering="crispEdges"/>
<path d="M115.5 442.5L107.5 454.5L123.5 454.5Z" fill="none" stroke="#4169e1" stroke-width="1" shape-rendering="crispEdges"/>
<path d="M124.5 442.5L116.5 454.5L132.5 454.5Z" fill="none" stroke="#4169e1" stroke-width="1" shape-rendering="crispEdges"/>
<path d="M175.5 442.5L167.5 454.5L183.5 454.5Z" fill="none" stroke="#4169e1" stroke-width="1" shape-rendering="crispEdges"/>
<path d="M218.5 442.5L210.5 454.5L226.5 454.5Z" fill="none" stroke="#4169e1" stroke-width="1" shape-rendering="crispEdges"/>
<path d="M233.5 442.5L225.5 454.5L241.5 454.5Z" fill="none" stroke="#4169e1" stroke-width="1" shape-rendering="crispEdges"/>
<path d="M527.5 442.5L519.5 454.5L535.5 454.5Z" fill="none" stroke="#4169e1" stroke-width="1" shape-rendering="crispEdges"/>
<path d="M971.5 442.5L963.5 454.5L979.5 454.5Z" fill="none" stroke="#4169e1" stroke-width="1" shape-rendering="crispEdges"/>
<path d="M974.5 442.5L966.5 454.5L982.5 454.5Z" fill="none" stroke="#4169e1" stroke-width="1" shape-rendering="crispEdges"/>
<path d="M978.5 442.5L970.5 454.5L986.5 454.5Z" fill="none" stroke="#4169e1" stroke-width="1" shape-rendering="crispEdges"/>
<path d="M169.0 411.5h13M175.5 405.0v13" stroke="#ffc020" stroke-width="1" fill="none" shape-rendering="crispEdges"/>
<rect x="101.5" y="77.5" width="885" height="442" shape-rendering="crispEdges" stroke="#000" stroke-width="1" fill="none"/>
<text x="683.20" y="96.0" text-anchor="start" xml:space="preserve" letter-spacing="0.004">"Ypingresult.txt" using 1:2</text>
<text x="664.00" y="115.0" text-anchor="start" xml:space="preserve" letter-spacing="0.011">"YTimetcpping.txt" using 1:2</text>
<text x="616.20" y="134.0" text-anchor="start" xml:space="preserve" letter-spacing="0.003">"YCustPingSiteTimes.txt" using 1:2</text>
<text x="669.80" y="153.0" text-anchor="start" xml:space="preserve" letter-spacing="0.052">"Yofflineresult.txt" using 1:2</text>
<text x="657.80" y="172.0" text-anchor="start" xml:space="preserve" letter-spacing="0.017">"Ytcpoff_record.txt" using 1:2</text>
<text x="643.20" y="191.0" text-anchor="start" xml:space="preserve" letter-spacing="0.003">"Ygooglecurltime.txt" using 1:2</text>
<text x="614.00" y="210.0" text-anchor="start" xml:space="preserve" letter-spacing="0.039">"Ygooglecurldnstime.txt" using 1:2</text>
<text x="629.00" y="229.0" text-anchor="start" xml:space="preserve" letter-spacing="0.010">"YCustPingTimeout.txt" using 1:2</text>
<text x="660.70" y="248.0" text-anchor="start" xml:space="preserve" letter-spacing="0.057">"YHPpingresult.txt" using 1:2</text>
<path d="M908 92.5h57" stroke="#ff0000" stroke-width="1" shape-rendering="crispEdges"/>
<path d="M908 111.5h57" stroke="#00c000" stroke-width="1" shape-rendering="crispEdges"/>
<path d="M908 130.5h57" stroke="#0080ff" stroke-width="1" shape-rendering="crispEdges"/>
<rect x="930.5" y="143.5" width="12" height="12" fill="none" stroke="#c000ff" stroke-width="1" shape-rendering="crispEdges"/>
<rect x="930.5" y="162.5" width="12" height="12" fill="#00eeee" stroke="#00eeee" stroke-width="1" shape-rendering="crispEdges"/>
<circle cx="936.5" cy="187.5" r="5.1" fill="none" stroke="#c04000" stroke-width="1.25"/>
<path d="M931.3 187.5h-1.5M941.7 187.5h1.5M936.5 182.3v-1.5M936.5 192.7v1.5" stroke="#c04000" stroke-width="1" fill="none"/>
<circle cx="936.5" cy="206.8" r="5.6" fill="#c8c800"/>
<path d="M936.5 211.8v1.5" stroke="#c8c800" stroke-width="1.5" fill="none"/>
<path d="M936.5 217.5L928.5 229.5L944.5 229.5Z" fill="none" stroke="#4169e1" stroke-width="1" shape-rendering="crispEdges"/>
<path d="M930.0 244.5h13M936.5 238.0v13" stroke="#ffc020" stroke-width="1" fill="none" shape-rendering="crispEdges"/>
</svg></body></html>
